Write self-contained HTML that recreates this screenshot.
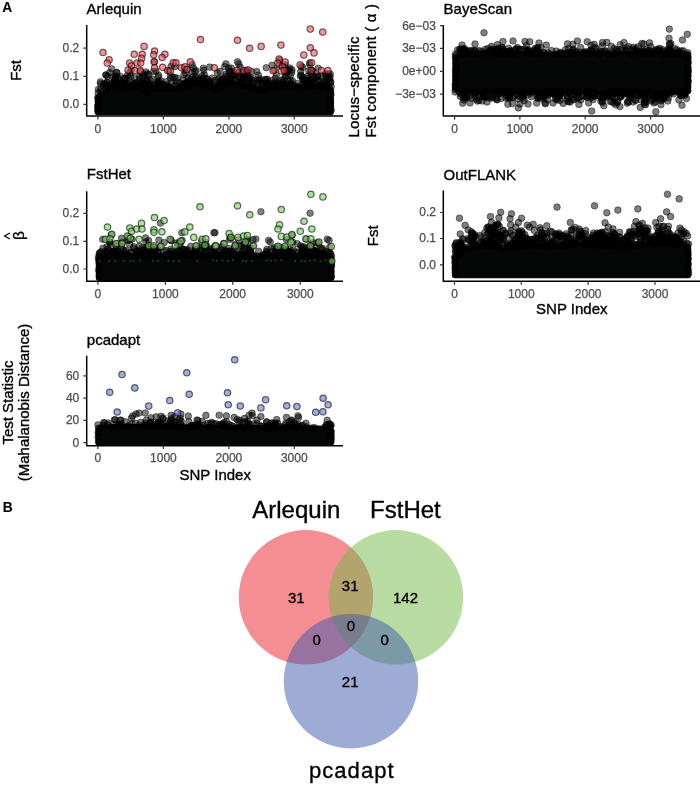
<!DOCTYPE html><html><head><meta charset="utf-8"><style>html,body{margin:0;padding:0;background:#fff}svg{display:block;filter:blur(0.3px)}text{font-family:"Liberation Sans", sans-serif;stroke:#000;stroke-width:0.35px} .t{font-size:12px;fill:#4D4D4D;stroke:#4D4D4D;stroke-width:0.25px} .h{font-size:15px;fill:#000}</style></head><body>
<svg width="700" height="786" viewBox="0 0 700 786">
<rect width="700" height="786" fill="#fff"/>
<text x="2.3" y="11.7" style="font-size:13.8px;font-weight:bold;stroke-width:0.1px">A</text>
<text x="2.8" y="511.8" style="font-size:13.8px;font-weight:bold;stroke-width:0.1px">B</text>
<text x="86.6" y="13.9" class="h">Arlequin</text>
<text transform="translate(21.4 70.4) rotate(-90)" text-anchor="middle" class="h">Fst</text>
<path d="M97.9 115.3Q94.9 115.3 94.9 112.3L94.9 97L98 93L100 93L102 92.5L104 90.8L106 86L108 84.3L110 83.1L112 83.9L114 84.6L116 85.3L118 85.7L120 85.9L122 86.1L124 86.2L126 86.3L128 85.3L130 84.4L132 84L134 84.2L136 84.4L138 84.6L140 84.4L142 84.1L144 85.3L146 89.7L148 88.7L150 87.7L152 86.9L154 86.2L156 85.5L158 84.9L160 86.9L162 88.8L164 89.5L166 88.2L168 86.9L170 86.5L172 86.5L174 86.5L176 86.5L178 86.5L180 86.5L182 86.5L184 86L186 85L188 84L190 83L192 82.5L194 82L196 81.5L198 81.3L200 81.5L202 81.7L204 82L206 82.5L208 83L210 83.5L212 84.4L214 86L216 87.1L218 86.1L220 85.1L222 84L224 82.8L226 81.6L228 80.4L230 80.2L232 80.5L234 80.7L236 81L238 81.5L240 81.9L242 82.4L244 82.8L246 83L248 83.1L250 83.3L252 83.5L254 84.4L256 85.7L258 86.9L260 88.1L262 87.6L264 86.9L266 86.3L268 85.8L270 85.4L272 84.9L274 84.7L276 84.9L278 85.2L280 85.4L282 84.7L284 83.5L286 82.3L288 81.1L290 80.1L292 82.1L294 84.1L296 85.3L298 84.8L300 84.3L302 83.8L304 83.6L306 83.6L308 83.6L310 83.6L312 83.8L314 84.1L316 84.4L318 84.6L320 84.3L322 84L324 83.7L326 84L328 85L330 86.1L330.7 86.4L333.8 90.4L333.8 112.3Q333.8 115.3 330.8 115.3Z" fill="#050706"/>
<g fill="#000" fill-opacity="0.5" stroke="#000" stroke-opacity="0.45" stroke-width="1"><circle cx="203.3" cy="68.2" r="3.3"/><circle cx="206.4" cy="79.1" r="3.3"/><circle cx="216.2" cy="85.9" r="3.3"/><circle cx="217.1" cy="87.1" r="3.3"/><circle cx="244.6" cy="85.1" r="3.3"/><circle cx="168.6" cy="86.3" r="3.3"/><circle cx="119.1" cy="84.5" r="3.3"/><circle cx="107.7" cy="76.3" r="3.3"/><circle cx="326.6" cy="76.2" r="3.3"/><circle cx="241.2" cy="82.8" r="3.3"/><circle cx="134.6" cy="77.7" r="3.3"/><circle cx="111.9" cy="86.1" r="3.3"/><circle cx="142.3" cy="87.2" r="3.3"/><circle cx="206" cy="83.7" r="3.3"/><circle cx="200.5" cy="79.5" r="3.3"/><circle cx="247" cy="78.2" r="3.3"/><circle cx="214.3" cy="84.8" r="3.3"/><circle cx="162.7" cy="85.2" r="3.3"/><circle cx="330.2" cy="74" r="3.3"/><circle cx="262.7" cy="90.1" r="3.3"/><circle cx="171.4" cy="88.9" r="3.3"/><circle cx="114.3" cy="81.4" r="3.3"/><circle cx="276.3" cy="75.6" r="3.3"/><circle cx="187.9" cy="78.1" r="3.3"/><circle cx="320.9" cy="87.2" r="3.3"/><circle cx="146.8" cy="92.3" r="3.3"/><circle cx="309.8" cy="64.8" r="3.3"/><circle cx="190.5" cy="81.9" r="3.3"/><circle cx="115" cy="78.6" r="3.3"/><circle cx="160.8" cy="80.7" r="3.3"/><circle cx="118.3" cy="78.7" r="3.3"/><circle cx="274.4" cy="70" r="3.3"/><circle cx="125.5" cy="89.5" r="3.3"/><circle cx="111.9" cy="83.4" r="3.3"/><circle cx="283.5" cy="82.5" r="3.3"/><circle cx="202.1" cy="75.8" r="3.3"/><circle cx="142.4" cy="86.8" r="3.3"/><circle cx="247.8" cy="82.1" r="3.3"/><circle cx="125.1" cy="84.7" r="3.3"/><circle cx="160.8" cy="88.2" r="3.3"/><circle cx="323.9" cy="84.7" r="3.3"/><circle cx="303.9" cy="80.4" r="3.3"/><circle cx="147" cy="80" r="3.3"/><circle cx="247.4" cy="76.6" r="3.3"/><circle cx="121.3" cy="83.7" r="3.3"/><circle cx="158.1" cy="87.8" r="3.3"/><circle cx="277.8" cy="85.2" r="3.3"/><circle cx="115.1" cy="82.3" r="3.3"/><circle cx="119" cy="83.8" r="3.3"/><circle cx="237.9" cy="81.7" r="3.3"/><circle cx="184.5" cy="69.6" r="3.3"/><circle cx="210.6" cy="81" r="3.3"/><circle cx="231.7" cy="80.2" r="3.3"/><circle cx="133.9" cy="83.6" r="3.3"/><circle cx="309.4" cy="84.3" r="3.3"/><circle cx="142.2" cy="81.8" r="3.3"/><circle cx="270.1" cy="83.6" r="3.3"/><circle cx="319.1" cy="85.7" r="3.3"/><circle cx="303.3" cy="80.1" r="3.3"/><circle cx="122.2" cy="84.2" r="3.3"/><circle cx="107" cy="82.6" r="3.3"/><circle cx="262" cy="89.4" r="3.3"/><circle cx="157.8" cy="83.2" r="3.3"/><circle cx="166.3" cy="81.6" r="3.3"/><circle cx="138.8" cy="87.2" r="3.3"/><circle cx="151.1" cy="87.5" r="3.3"/><circle cx="228.2" cy="76.8" r="3.3"/><circle cx="163.2" cy="84.4" r="3.3"/><circle cx="311.5" cy="86.5" r="3.3"/><circle cx="160.6" cy="89.3" r="3.3"/><circle cx="201.7" cy="80.3" r="3.3"/><circle cx="183.8" cy="87.4" r="3.3"/><circle cx="231.1" cy="78.4" r="3.3"/><circle cx="305.3" cy="81.2" r="3.3"/><circle cx="326.2" cy="80.6" r="3.3"/><circle cx="234" cy="73.7" r="3.3"/><circle cx="130.7" cy="85.8" r="3.3"/><circle cx="309.8" cy="86.5" r="3.3"/><circle cx="261.1" cy="89.5" r="3.3"/><circle cx="246" cy="85.8" r="3.3"/><circle cx="210.2" cy="85.9" r="3.3"/><circle cx="330.6" cy="82.6" r="3.3"/><circle cx="115.5" cy="75.8" r="3.3"/><circle cx="307.5" cy="83.1" r="3.3"/><circle cx="269.5" cy="84.6" r="3.3"/><circle cx="310.9" cy="73.3" r="3.3"/><circle cx="179.9" cy="82.9" r="3.3"/><circle cx="300.7" cy="71.6" r="3.3"/><circle cx="195.1" cy="80.9" r="3.3"/><circle cx="231.3" cy="68.1" r="3.3"/><circle cx="243.4" cy="78.1" r="3.3"/><circle cx="239.7" cy="77.9" r="3.3"/><circle cx="116.7" cy="72.5" r="3.3"/><circle cx="302.7" cy="67.4" r="3.3"/><circle cx="267.5" cy="79.2" r="3.3"/><circle cx="233.2" cy="75.4" r="3.3"/><circle cx="200.5" cy="83" r="3.3"/><circle cx="272.6" cy="85.1" r="3.3"/><circle cx="104.9" cy="84.4" r="3.3"/><circle cx="151.6" cy="84.8" r="3.3"/><circle cx="260.5" cy="80.2" r="3.3"/><circle cx="312.2" cy="86.9" r="3.3"/><circle cx="157.5" cy="81.4" r="3.3"/><circle cx="255.8" cy="88.2" r="3.3"/><circle cx="145.1" cy="83.9" r="3.3"/><circle cx="251.6" cy="71.5" r="3.3"/><circle cx="200.8" cy="79.3" r="3.3"/><circle cx="253" cy="82.5" r="3.3"/><circle cx="144.2" cy="76" r="3.3"/><circle cx="310.7" cy="80.8" r="3.3"/><circle cx="302.8" cy="78.9" r="3.3"/><circle cx="171.6" cy="82.7" r="3.3"/><circle cx="129.7" cy="72.5" r="3.3"/><circle cx="295.5" cy="88.3" r="3.3"/><circle cx="263.5" cy="84.2" r="3.3"/><circle cx="137.4" cy="85.7" r="3.3"/><circle cx="202.9" cy="84.2" r="3.3"/><circle cx="194.3" cy="79.6" r="3.3"/><circle cx="243.6" cy="79" r="3.3"/><circle cx="293.3" cy="86.3" r="3.3"/><circle cx="326.5" cy="84.5" r="3.3"/><circle cx="105.3" cy="89.9" r="3.3"/><circle cx="301.1" cy="75.1" r="3.3"/><circle cx="230.8" cy="80.3" r="3.3"/><circle cx="169.9" cy="89.3" r="3.3"/><circle cx="129.6" cy="86.2" r="3.3"/><circle cx="203.8" cy="70.3" r="3.3"/><circle cx="153.2" cy="87.4" r="3.3"/><circle cx="130.8" cy="76.4" r="3.3"/><circle cx="201.9" cy="81.7" r="3.3"/><circle cx="244.6" cy="77.9" r="3.3"/><circle cx="321" cy="75.3" r="3.3"/><circle cx="257.3" cy="86.8" r="3.3"/><circle cx="139.6" cy="79" r="3.3"/><circle cx="100.5" cy="83.7" r="3.3"/><circle cx="139.7" cy="85.4" r="3.3"/><circle cx="161.4" cy="84.4" r="3.3"/><circle cx="219.1" cy="78.6" r="3.3"/><circle cx="241" cy="85" r="3.3"/><circle cx="282.3" cy="79.7" r="3.3"/><circle cx="308.9" cy="70.9" r="3.3"/><circle cx="266.1" cy="79.8" r="3.3"/><circle cx="128.2" cy="77.7" r="3.3"/><circle cx="309.7" cy="83.6" r="3.3"/><circle cx="185.7" cy="73.4" r="3.3"/><circle cx="283.4" cy="80.1" r="3.3"/><circle cx="317.7" cy="76.5" r="3.3"/><circle cx="145.7" cy="90.4" r="3.3"/><circle cx="266" cy="84.8" r="3.3"/><circle cx="265" cy="79.4" r="3.3"/><circle cx="147.6" cy="73.9" r="3.3"/><circle cx="325.4" cy="73.8" r="3.3"/><circle cx="222.9" cy="84.9" r="3.3"/><circle cx="309.8" cy="80" r="3.3"/><circle cx="297.1" cy="86.3" r="3.3"/><circle cx="200.6" cy="82.1" r="3.3"/><circle cx="226.1" cy="83.7" r="3.3"/><circle cx="104.6" cy="83.3" r="3.3"/><circle cx="286.3" cy="72.1" r="3.3"/><circle cx="138.2" cy="82.2" r="3.3"/><circle cx="176" cy="88.7" r="3.3"/><circle cx="132.6" cy="83" r="3.3"/><circle cx="218.2" cy="86.7" r="3.3"/><circle cx="258.4" cy="75.2" r="3.3"/><circle cx="318.1" cy="68.2" r="3.3"/><circle cx="118" cy="88" r="3.3"/><circle cx="149.5" cy="84.6" r="3.3"/><circle cx="267.6" cy="88" r="3.3"/><circle cx="246.7" cy="71" r="3.3"/><circle cx="228.3" cy="81.2" r="3.3"/><circle cx="170.5" cy="78.4" r="3.3"/><circle cx="307.6" cy="76.3" r="3.3"/><circle cx="146.5" cy="80.2" r="3.3"/><circle cx="220" cy="71.4" r="3.3"/><circle cx="231.3" cy="80.6" r="3.3"/><circle cx="215.1" cy="80.6" r="3.3"/><circle cx="238.8" cy="64" r="3.3"/><circle cx="218.1" cy="85.6" r="3.3"/><circle cx="191.2" cy="82.6" r="3.3"/><circle cx="212.3" cy="78" r="3.3"/><circle cx="258.8" cy="81.5" r="3.3"/><circle cx="194.3" cy="81.1" r="3.3"/><circle cx="320.7" cy="81.8" r="3.3"/><circle cx="208.1" cy="83.3" r="3.3"/><circle cx="127.5" cy="75.3" r="3.3"/><circle cx="307.6" cy="80.8" r="3.3"/><circle cx="208.9" cy="84.3" r="3.3"/><circle cx="241.8" cy="80.8" r="3.3"/><circle cx="313.3" cy="77.7" r="3.3"/><circle cx="103.3" cy="85.2" r="3.3"/><circle cx="143.2" cy="85.4" r="3.3"/><circle cx="172.9" cy="77.6" r="3.3"/><circle cx="180.7" cy="87" r="3.3"/><circle cx="268.1" cy="86.4" r="3.3"/><circle cx="126.6" cy="83.1" r="3.3"/><circle cx="144" cy="88.1" r="3.3"/><circle cx="221.4" cy="80.4" r="3.3"/><circle cx="194.2" cy="82.1" r="3.3"/><circle cx="221.2" cy="84.8" r="3.3"/><circle cx="244.9" cy="81.5" r="3.3"/><circle cx="246.6" cy="70.9" r="3.3"/><circle cx="240.3" cy="82.3" r="3.3"/><circle cx="297.4" cy="86.8" r="3.3"/><circle cx="286.6" cy="72.1" r="3.3"/><circle cx="308.1" cy="84" r="3.3"/><circle cx="312.7" cy="80.8" r="3.3"/><circle cx="148.8" cy="74.8" r="3.3"/><circle cx="129.2" cy="87.8" r="3.3"/><circle cx="153.7" cy="88.6" r="3.3"/><circle cx="120.6" cy="83" r="3.3"/><circle cx="291.6" cy="72.5" r="3.3"/><circle cx="127.3" cy="82.2" r="3.3"/><circle cx="191.7" cy="85.2" r="3.3"/><circle cx="144.8" cy="89.6" r="3.3"/><circle cx="256.8" cy="71.5" r="3.3"/><circle cx="124.9" cy="78.4" r="3.3"/><circle cx="215.7" cy="90" r="3.3"/><circle cx="257.6" cy="80.4" r="3.3"/><circle cx="142" cy="83.9" r="3.3"/><circle cx="106.7" cy="87" r="3.3"/><circle cx="226.4" cy="74.2" r="3.3"/><circle cx="132.1" cy="86.2" r="3.3"/><circle cx="140.9" cy="83.1" r="3.3"/><circle cx="328.4" cy="73.8" r="3.3"/><circle cx="313.7" cy="84.9" r="3.3"/><circle cx="319.4" cy="86" r="3.3"/><circle cx="205.5" cy="84.9" r="3.3"/><circle cx="206.7" cy="78.7" r="3.3"/><circle cx="217.9" cy="79.6" r="3.3"/><circle cx="101.1" cy="91.5" r="3.3"/><circle cx="261.1" cy="88.2" r="3.3"/><circle cx="203.6" cy="80.9" r="3.3"/><circle cx="270" cy="84.2" r="3.3"/><circle cx="136.4" cy="84.7" r="3.3"/><circle cx="217.3" cy="72.8" r="3.3"/><circle cx="284.6" cy="84.7" r="3.3"/><circle cx="262" cy="83.6" r="3.3"/><circle cx="192.1" cy="77" r="3.3"/><circle cx="237.5" cy="61.8" r="3.3"/><circle cx="285.3" cy="85.3" r="3.3"/><circle cx="158.1" cy="77" r="3.3"/><circle cx="279" cy="81.5" r="3.3"/><circle cx="287.6" cy="70.4" r="3.3"/><circle cx="302.7" cy="77.3" r="3.3"/><circle cx="259.7" cy="89.7" r="3.3"/><circle cx="192.4" cy="72" r="3.3"/><circle cx="266.2" cy="82.9" r="3.3"/><circle cx="207.1" cy="82.8" r="3.3"/><circle cx="100.5" cy="89.2" r="3.3"/><circle cx="243.2" cy="76.9" r="3.3"/><circle cx="152" cy="79" r="3.3"/><circle cx="176.6" cy="85.7" r="3.3"/><circle cx="251.5" cy="77.7" r="3.3"/><circle cx="188.7" cy="82.7" r="3.3"/><circle cx="330.7" cy="81.8" r="3.3"/><circle cx="275.3" cy="78.4" r="3.3"/><circle cx="326.1" cy="76.3" r="3.3"/><circle cx="269.9" cy="87" r="3.3"/><circle cx="157.7" cy="86" r="3.3"/><circle cx="143.5" cy="85.6" r="3.3"/><circle cx="185.4" cy="83.5" r="3.3"/><circle cx="308.7" cy="83.3" r="3.3"/><circle cx="226" cy="63.9" r="3.3"/><circle cx="230.2" cy="82.4" r="3.3"/><circle cx="329.6" cy="79.6" r="3.3"/><circle cx="115.7" cy="77.3" r="3.3"/><circle cx="237" cy="84.3" r="3.3"/><circle cx="314.4" cy="84.9" r="3.3"/><circle cx="135.2" cy="82.7" r="3.3"/><circle cx="213.3" cy="87.8" r="3.3"/><circle cx="240.2" cy="67.2" r="3.3"/><circle cx="195.9" cy="77.8" r="3.3"/><circle cx="220.6" cy="81.8" r="3.3"/><circle cx="164.5" cy="88" r="3.3"/><circle cx="250.4" cy="80.5" r="3.3"/><circle cx="264.8" cy="87.5" r="3.3"/><circle cx="166.9" cy="84.8" r="3.3"/><circle cx="108" cy="87" r="3.3"/><circle cx="134.4" cy="87.2" r="3.3"/><circle cx="306.9" cy="78.8" r="3.3"/><circle cx="272.1" cy="65.2" r="3.3"/><circle cx="317.8" cy="80.4" r="3.3"/><circle cx="115.1" cy="81.2" r="3.3"/><circle cx="209.1" cy="81.8" r="3.3"/><circle cx="324.5" cy="86.5" r="3.3"/><circle cx="316.1" cy="77.9" r="3.3"/><circle cx="266.2" cy="67.7" r="3.3"/><circle cx="288" cy="79.9" r="3.3"/><circle cx="238.5" cy="76.4" r="3.3"/><circle cx="204" cy="77.8" r="3.3"/><circle cx="145.4" cy="83.9" r="3.3"/><circle cx="126.9" cy="85.9" r="3.3"/><circle cx="201.1" cy="80.5" r="3.3"/><circle cx="159" cy="81.4" r="3.3"/><circle cx="233.5" cy="71.7" r="3.3"/><circle cx="221.5" cy="80.8" r="3.3"/><circle cx="330.1" cy="76.9" r="3.3"/><circle cx="153.5" cy="85.8" r="3.3"/><circle cx="124.5" cy="78.5" r="3.3"/><circle cx="243.4" cy="77.2" r="3.3"/><circle cx="181.6" cy="88.1" r="3.3"/><circle cx="229.4" cy="71.3" r="3.3"/><circle cx="235.7" cy="75.2" r="3.3"/><circle cx="142.2" cy="77.4" r="3.3"/><circle cx="155.9" cy="71.1" r="3.3"/><circle cx="302.5" cy="84.6" r="3.3"/><circle cx="107.2" cy="82.3" r="3.3"/><circle cx="196.9" cy="82.1" r="3.3"/><circle cx="243.1" cy="77.8" r="3.3"/><circle cx="114.9" cy="82.1" r="3.3"/><circle cx="118.1" cy="84.4" r="3.3"/><circle cx="244.9" cy="77" r="3.3"/><circle cx="184.8" cy="83.3" r="3.3"/><circle cx="178" cy="89" r="3.3"/><circle cx="271.3" cy="86.6" r="3.3"/><circle cx="125.9" cy="86.8" r="3.3"/><circle cx="286.3" cy="75.6" r="3.3"/><circle cx="147.6" cy="82.5" r="3.3"/><circle cx="196.7" cy="83.8" r="3.3"/><circle cx="183.9" cy="74.7" r="3.3"/><circle cx="250.1" cy="79.5" r="3.3"/><circle cx="225.7" cy="84.5" r="3.3"/><circle cx="271.6" cy="80.7" r="3.3"/><circle cx="183.9" cy="85.2" r="3.3"/><circle cx="120.6" cy="86.8" r="3.3"/><circle cx="117.3" cy="86.6" r="3.3"/><circle cx="229.3" cy="71.2" r="3.3"/><circle cx="167.5" cy="89.2" r="3.3"/><circle cx="278.5" cy="83.5" r="3.3"/><circle cx="252.1" cy="84.2" r="3.3"/><circle cx="117" cy="84.6" r="3.3"/><circle cx="259.5" cy="78.9" r="3.3"/><circle cx="163.8" cy="88.1" r="3.3"/><circle cx="266.9" cy="83.4" r="3.3"/><circle cx="183.3" cy="80.2" r="3.3"/><circle cx="230.5" cy="75" r="3.3"/><circle cx="311.7" cy="70.5" r="3.3"/><circle cx="199.9" cy="78.2" r="3.3"/><circle cx="284.9" cy="83.8" r="3.3"/><circle cx="191" cy="79.4" r="3.3"/><circle cx="315.5" cy="82.7" r="3.3"/><circle cx="182.2" cy="86" r="3.3"/><circle cx="183.1" cy="84.4" r="3.3"/><circle cx="188.2" cy="81" r="3.3"/><circle cx="143.4" cy="74" r="3.3"/><circle cx="223.8" cy="80.6" r="3.3"/><circle cx="292.6" cy="81.3" r="3.3"/><circle cx="274.6" cy="86.1" r="3.3"/><circle cx="303" cy="86.5" r="3.3"/><circle cx="218" cy="87.7" r="3.3"/><circle cx="224.6" cy="66.6" r="3.3"/><circle cx="249.5" cy="77.9" r="3.3"/><circle cx="285.2" cy="76.7" r="3.3"/><circle cx="281.4" cy="84.3" r="3.3"/><circle cx="117.6" cy="77.5" r="3.3"/><circle cx="307.2" cy="80.4" r="3.3"/><circle cx="117.7" cy="85.9" r="3.3"/><circle cx="271.5" cy="84.8" r="3.3"/><circle cx="249" cy="86.3" r="3.3"/><circle cx="276.1" cy="82.5" r="3.3"/><circle cx="219.4" cy="87.9" r="3.3"/><circle cx="176.6" cy="81.7" r="3.3"/><circle cx="323.3" cy="82.7" r="3.3"/><circle cx="223" cy="78.4" r="3.3"/><circle cx="265.8" cy="85" r="3.3"/><circle cx="193.5" cy="68.1" r="3.3"/><circle cx="290.3" cy="75.7" r="3.3"/><circle cx="285.5" cy="72.2" r="3.3"/><circle cx="292" cy="69.9" r="3.3"/><circle cx="247" cy="73.3" r="3.3"/><circle cx="219.9" cy="84.8" r="3.3"/><circle cx="196.1" cy="70.7" r="3.3"/><circle cx="195.8" cy="76.7" r="3.3"/><circle cx="328.6" cy="78.1" r="3.3"/><circle cx="185.4" cy="85.8" r="3.3"/><circle cx="196.9" cy="79.8" r="3.3"/><circle cx="166" cy="88.7" r="3.3"/><circle cx="169.8" cy="89.2" r="3.3"/><circle cx="124.7" cy="81.2" r="3.3"/><circle cx="139.8" cy="76.5" r="3.3"/><circle cx="112.5" cy="77" r="3.3"/><circle cx="309.6" cy="84.1" r="3.3"/><circle cx="106.5" cy="84.8" r="3.3"/><circle cx="148.6" cy="88.4" r="3.3"/><circle cx="152.8" cy="87.7" r="3.3"/><circle cx="150.1" cy="80.4" r="3.3"/><circle cx="141" cy="86.5" r="3.3"/><circle cx="274.3" cy="83.1" r="3.3"/><circle cx="170.5" cy="75.6" r="3.3"/><circle cx="209.6" cy="82.2" r="3.3"/><circle cx="158.6" cy="75.2" r="3.3"/><circle cx="177.6" cy="78.2" r="3.3"/><circle cx="225.4" cy="76.3" r="3.3"/><circle cx="149.4" cy="88.8" r="3.3"/><circle cx="109.6" cy="72.6" r="3.3"/><circle cx="187.6" cy="82.7" r="3.3"/><circle cx="220.8" cy="81.6" r="3.3"/><circle cx="328.4" cy="87.8" r="3.3"/><circle cx="251" cy="86.5" r="3.3"/><circle cx="208" cy="85" r="3.3"/><circle cx="184.5" cy="85.3" r="3.3"/><circle cx="239" cy="72.8" r="3.3"/><circle cx="134.6" cy="83.6" r="3.3"/><circle cx="158.4" cy="82.6" r="3.3"/><circle cx="300.3" cy="76.1" r="3.3"/><circle cx="329.1" cy="87.6" r="3.3"/><circle cx="160" cy="85.6" r="3.3"/><circle cx="277.3" cy="87.3" r="3.3"/><circle cx="98.3" cy="89.5" r="3.3"/><circle cx="289.3" cy="69.6" r="3.3"/><circle cx="117.2" cy="87.2" r="3.3"/><circle cx="120.6" cy="76.5" r="3.3"/><circle cx="209.7" cy="67.1" r="3.3"/><circle cx="234.5" cy="80.1" r="3.3"/><circle cx="297.5" cy="83.5" r="3.3"/><circle cx="195" cy="71.6" r="3.3"/><circle cx="311.3" cy="74.3" r="3.3"/><circle cx="146.5" cy="84.6" r="3.3"/><circle cx="224.4" cy="81.1" r="3.3"/><circle cx="291.6" cy="84.2" r="3.3"/><circle cx="170.5" cy="88.5" r="3.3"/><circle cx="169.1" cy="86.7" r="3.3"/><circle cx="206.7" cy="84.2" r="3.3"/><circle cx="257.9" cy="82.7" r="3.3"/><circle cx="122.6" cy="82.3" r="3.3"/><circle cx="323" cy="81.6" r="3.3"/><circle cx="291.1" cy="83.7" r="3.3"/><circle cx="185.8" cy="87.3" r="3.3"/><circle cx="263.2" cy="89.6" r="3.3"/><circle cx="204.6" cy="75" r="3.3"/><circle cx="100.4" cy="81.9" r="3.3"/><circle cx="146.1" cy="92.1" r="3.3"/><circle cx="241.4" cy="83.5" r="3.3"/><circle cx="223.6" cy="78.7" r="3.3"/><circle cx="167.4" cy="86.3" r="3.3"/><circle cx="253.1" cy="80.3" r="3.3"/><circle cx="157.7" cy="84.1" r="3.3"/><circle cx="174.7" cy="77.4" r="3.3"/><circle cx="317.9" cy="75.9" r="3.3"/><circle cx="175.2" cy="84.8" r="3.3"/><circle cx="290.4" cy="80" r="3.3"/><circle cx="120" cy="86.7" r="3.3"/><circle cx="98.2" cy="93" r="3.3"/><circle cx="97.7" cy="97.7" r="3.3"/><circle cx="98.3" cy="101.4" r="3.3"/><circle cx="97.6" cy="105.7" r="3.3"/><circle cx="97.7" cy="108.8" r="3.3"/><circle cx="97.9" cy="111.6" r="3.3"/><circle cx="331.1" cy="86.4" r="3.3"/><circle cx="330.7" cy="90.2" r="3.3"/><circle cx="331" cy="94.6" r="3.3"/><circle cx="330.6" cy="99.7" r="3.3"/><circle cx="330.6" cy="103.1" r="3.3"/><circle cx="330.6" cy="105.6" r="3.3"/><circle cx="331.2" cy="110.2" r="3.3"/></g>
<g fill="#000" fill-opacity="0.5" stroke="#000" stroke-opacity="0.45" stroke-width="1"><circle cx="105.9" cy="75" r="3.3"/><circle cx="105.9" cy="75" r="3.3"/><circle cx="111.6" cy="68.9" r="3.3"/><circle cx="116.6" cy="72.5" r="3.3"/><circle cx="228.6" cy="68" r="3.3"/><circle cx="289.9" cy="68" r="3.3"/><circle cx="146" cy="72" r="3.3"/></g>
<g fill="#000" fill-opacity="0.5" stroke="#000" stroke-opacity="0.45" stroke-width="1"><circle cx="131.3" cy="69.7" r="3.3"/><circle cx="140.2" cy="71.5" r="3.3"/><circle cx="154.4" cy="61.9" r="3.3"/><circle cx="153.7" cy="71.4" r="3.3"/><circle cx="168.8" cy="71.1" r="3.3"/><circle cx="171.2" cy="66.2" r="3.3"/><circle cx="174.9" cy="66.6" r="3.3"/><circle cx="186.7" cy="69" r="3.3"/><circle cx="192.1" cy="64.6" r="3.3"/><circle cx="243.4" cy="71.2" r="3.3"/><circle cx="246.4" cy="71.1" r="3.3"/><circle cx="279.8" cy="60.4" r="3.3"/><circle cx="279.1" cy="65" r="3.3"/><circle cx="285.1" cy="64.9" r="3.3"/><circle cx="284.3" cy="66.9" r="3.3"/><circle cx="301.3" cy="66.4" r="3.3"/><circle cx="309.6" cy="62.9" r="3.3"/><circle cx="313" cy="71.3" r="3.3"/></g>
<g fill="rgb(245,65,75)" fill-opacity="0.56" stroke="#000" stroke-opacity="0.58" stroke-width="1.25"><circle cx="103" cy="52.5" r="3.2"/><circle cx="109.1" cy="59.7" r="3.2"/><circle cx="107.3" cy="63.1" r="3.2"/><circle cx="144.1" cy="46.4" r="3.2"/><circle cx="134.2" cy="54.3" r="3.2"/><circle cx="142.2" cy="54.3" r="3.2"/><circle cx="141.6" cy="58.4" r="3.2"/><circle cx="129.6" cy="63.1" r="3.2"/><circle cx="137" cy="63.1" r="3.2"/><circle cx="140.7" cy="63.1" r="3.2"/><circle cx="131.4" cy="65.9" r="3.2"/><circle cx="128.1" cy="70.1" r="3.2"/><circle cx="134.8" cy="70.5" r="3.2"/><circle cx="140.3" cy="70.5" r="3.2"/><circle cx="154.6" cy="51" r="3.2"/><circle cx="153.7" cy="54.7" r="3.2"/><circle cx="164.9" cy="54.3" r="3.2"/><circle cx="162.1" cy="57.5" r="3.2"/><circle cx="154.1" cy="61.8" r="3.2"/><circle cx="154.6" cy="67.7" r="3.2"/><circle cx="162.6" cy="67.3" r="3.2"/><circle cx="167.6" cy="70.5" r="3.2"/><circle cx="170.4" cy="71.1" r="3.2"/><circle cx="173.2" cy="62.7" r="3.2"/><circle cx="176" cy="62.7" r="3.2"/><circle cx="181.6" cy="67.7" r="3.2"/><circle cx="184.9" cy="66.8" r="3.2"/><circle cx="187.1" cy="69.6" r="3.2"/><circle cx="190.3" cy="61.8" r="3.2"/><circle cx="200.5" cy="39.5" r="3.2"/><circle cx="214.3" cy="67.7" r="3.2"/><circle cx="237.5" cy="40.2" r="3.2"/><circle cx="249.6" cy="48.2" r="3.2"/><circle cx="261.1" cy="46.4" r="3.2"/><circle cx="280.9" cy="45.1" r="3.2"/><circle cx="236.9" cy="70.5" r="3.2"/><circle cx="244" cy="70.5" r="3.2"/><circle cx="248.1" cy="69.9" r="3.2"/><circle cx="273.1" cy="70.7" r="3.2"/><circle cx="279.1" cy="59" r="3.2"/><circle cx="277.8" cy="63.1" r="3.2"/><circle cx="285.2" cy="62.1" r="3.2"/><circle cx="282.4" cy="66.8" r="3.2"/><circle cx="281.5" cy="71.1" r="3.2"/><circle cx="284.3" cy="70.5" r="3.2"/><circle cx="300.1" cy="64.9" r="3.2"/><circle cx="303.8" cy="55.1" r="3.2"/><circle cx="310.3" cy="47.7" r="3.2"/><circle cx="314" cy="52.9" r="3.2"/><circle cx="311.6" cy="62.7" r="3.2"/><circle cx="311.2" cy="70.5" r="3.2"/><circle cx="310.3" cy="29.1" r="3.2"/><circle cx="322.7" cy="32.1" r="3.2"/><circle cx="321.4" cy="70.5" r="3.2"/><circle cx="327.9" cy="70.5" r="3.2"/></g>
<path d="M86.70 25V115.95H343" fill="none" stroke="#000" stroke-width="1.5" stroke-linejoin="round"/>
<path d="M83.4 48.2H87M83.4 76.4H87M83.4 104.3H87M97.9 115.8V119.4M163.4 115.8V119.4M228.9 115.8V119.4M294.3 115.8V119.4" stroke="#333" stroke-width="1.2"/>
<text x="79.3" y="52.1" text-anchor="end" class="t">0.2</text>
<text x="79.3" y="80.3" text-anchor="end" class="t">0.1</text>
<text x="79.3" y="108.2" text-anchor="end" class="t">0.0</text>
<text x="97.9" y="132.7" text-anchor="middle" class="t">0</text>
<text x="163.4" y="132.7" text-anchor="middle" class="t">1000</text>
<text x="228.9" y="132.7" text-anchor="middle" class="t">2000</text>
<text x="294.3" y="132.7" text-anchor="middle" class="t">3000</text>
<text x="443.6" y="14" class="h">BayeScan</text>
<text transform="translate(359 137.6) rotate(-90)" class="h" textLength="101" lengthAdjust="spacing">Locus−specific</text>
<text transform="translate(376.4 137.5) rotate(-90)" class="h" textLength="133.5" lengthAdjust="spacing">Fst component ( α )</text>
<path d="M452.4 58.2L455.5 54.2L457.5 53.8L459.5 53.3L461.5 52.9L463.5 52.4L465.5 52L467.5 51.6L469.5 51.1L471.5 51L473.5 51.1L475.5 51.1L477.5 51.2L479.5 51.2L481.5 51.3L483.5 51.3L485.5 51.4L487.5 51.4L489.5 51.5L491.5 51.5L493.5 51.4L495.5 51.4L497.5 51.4L499.5 51.3L501.5 51.3L503.5 51.3L505.5 51.2L507.5 51.2L509.5 51.2L511.5 51.1L513.5 51.1L515.5 51.1L517.5 51L519.5 51L521.5 51L523.5 51.1L525.5 51.1L527.5 51.1L529.5 51.2L531.5 51.2L533.5 51.2L535.5 51.3L537.5 51.3L539.5 51.3L541.5 51.4L543.5 51.4L545.5 51.4L547.5 51.5L549.5 51.5L551.5 51.5L553.5 51.4L555.5 51.4L557.5 51.4L559.5 51.3L561.5 51.3L563.5 51.3L565.5 51.2L567.5 51.2L569.5 51.2L571.5 51.1L573.5 51.1L575.5 51.1L577.5 51L579.5 51L581.5 51L583.5 51.1L585.5 51.1L587.5 51.1L589.5 51.2L591.5 51.2L593.5 51.2L595.5 51.3L597.5 51.3L599.5 51.3L601.5 51.4L603.5 51.4L605.5 51.4L607.5 51.5L609.5 51.5L611.5 51.5L613.5 51.4L615.5 51.4L617.5 51.4L619.5 51.3L621.5 51.3L623.5 51.3L625.5 51.2L627.5 51.2L629.5 51.2L631.5 51.1L633.5 51.1L635.5 51.1L637.5 51L639.5 51L641.5 51L643.5 51L645.5 51L647.5 51L649.5 51L651.5 51L653.5 51L655.5 51L657.5 51L659.5 51L661.5 51L663.5 51L665.5 51L667.5 51L669.5 51L671.5 51.1L673.5 51.3L675.5 51.5L677.5 51.7L679.5 51.9L681.5 52.1L683.5 52.3L685.5 52.5L687.5 52.7L688.1 52.7L691.2 56.7L691.2 89.3L688.1 93.3L687.5 93.3L685.5 93.5L683.5 93.7L681.5 93.9L679.5 94.1L677.5 94.3L675.5 94.5L673.5 94.7L671.5 94.9L669.5 95L667.5 95L665.5 95L663.5 95L661.5 95L659.5 95L657.5 95L655.5 95L653.5 95L651.5 95L649.5 95L647.5 95L645.5 95L643.5 95L641.5 95L639.5 95L637.5 95L635.5 95L633.5 95L631.5 95L629.5 95L627.5 95L625.5 95L623.5 95L621.5 95L619.5 95L617.5 95L615.5 95L613.5 95L611.5 95L609.5 95L607.5 95L605.5 95L603.5 95L601.5 95L599.5 95L597.5 95L595.5 95L593.5 95L591.5 95L589.5 95L587.5 95L585.5 95L583.5 95L581.5 95L579.5 95L577.5 94.9L575.5 94.8L573.5 94.8L571.5 94.7L569.5 94.7L567.5 94.6L565.5 94.5L563.5 94.5L561.5 94.4L559.5 94.3L557.5 94.2L555.5 94.2L553.5 94.1L551.5 94L549.5 94L547.5 94L545.5 94.1L543.5 94.1L541.5 94.1L539.5 94.2L537.5 94.2L535.5 94.2L533.5 94.3L531.5 94.3L529.5 94.3L527.5 94.4L525.5 94.4L523.5 94.4L521.5 94.5L519.5 94.5L517.5 94.5L515.5 94.4L513.5 94.4L511.5 94.4L509.5 94.3L507.5 94.3L505.5 94.3L503.5 94.2L501.5 94.2L499.5 94.2L497.5 94.1L495.5 94.1L493.5 94.1L491.5 94L489.5 94L487.5 94L485.5 94L483.5 94L481.5 94L479.5 94L477.5 94L475.5 94L473.5 94L471.5 94L469.5 93.9L467.5 93.7L465.5 93.5L463.5 93.3L461.5 93.1L459.5 92.8L457.5 92.6L455.5 92.4L452.4 88.4Z" fill="#050706"/>
<g fill="#000" fill-opacity="0.5" stroke="#000" stroke-opacity="0.45" stroke-width="1"><circle cx="678.4" cy="54.3" r="3.3"/><circle cx="687.8" cy="55" r="3.3"/><circle cx="498.4" cy="49.3" r="3.3"/><circle cx="535.9" cy="49.5" r="3.3"/><circle cx="662.4" cy="52.8" r="3.3"/><circle cx="529.8" cy="41.8" r="3.3"/><circle cx="595.3" cy="47.5" r="3.3"/><circle cx="670.4" cy="51.1" r="3.3"/><circle cx="620.2" cy="44.7" r="3.3"/><circle cx="592.6" cy="51.3" r="3.3"/><circle cx="527.8" cy="50.8" r="3.3"/><circle cx="591.1" cy="45.3" r="3.3"/><circle cx="673.7" cy="52.6" r="3.3"/><circle cx="587.2" cy="41.7" r="3.3"/><circle cx="617.9" cy="51.6" r="3.3"/><circle cx="678" cy="52.5" r="3.3"/><circle cx="528.2" cy="51.9" r="3.3"/><circle cx="606.9" cy="42.4" r="3.3"/><circle cx="488.6" cy="51.3" r="3.3"/><circle cx="498.5" cy="48" r="3.3"/><circle cx="466.9" cy="53.6" r="3.3"/><circle cx="670.7" cy="54" r="3.3"/><circle cx="573.3" cy="49.2" r="3.3"/><circle cx="609.2" cy="54.1" r="3.3"/><circle cx="668.7" cy="52.5" r="3.3"/><circle cx="591" cy="49.9" r="3.3"/><circle cx="524.7" cy="49.1" r="3.3"/><circle cx="556.3" cy="51.1" r="3.3"/><circle cx="612.1" cy="52.6" r="3.3"/><circle cx="687.3" cy="55.5" r="3.3"/><circle cx="538.2" cy="49.9" r="3.3"/><circle cx="671.7" cy="52.3" r="3.3"/><circle cx="677" cy="49.8" r="3.3"/><circle cx="478" cy="54" r="3.3"/><circle cx="663.8" cy="51.2" r="3.3"/><circle cx="536.7" cy="48.9" r="3.3"/><circle cx="531.9" cy="52.4" r="3.3"/><circle cx="464.1" cy="53" r="3.3"/><circle cx="580" cy="52.1" r="3.3"/><circle cx="502.4" cy="47.6" r="3.3"/><circle cx="616.8" cy="49.7" r="3.3"/><circle cx="648.1" cy="52.5" r="3.3"/><circle cx="669.7" cy="44.8" r="3.3"/><circle cx="571.5" cy="52" r="3.3"/><circle cx="577.4" cy="41" r="3.3"/><circle cx="628.5" cy="46.6" r="3.3"/><circle cx="565.5" cy="53.4" r="3.3"/><circle cx="537.8" cy="47.4" r="3.3"/><circle cx="637.9" cy="51.3" r="3.3"/><circle cx="674.8" cy="48.5" r="3.3"/><circle cx="459.7" cy="49.4" r="3.3"/><circle cx="534.7" cy="54.4" r="3.3"/><circle cx="495.4" cy="52.7" r="3.3"/><circle cx="518.1" cy="49.2" r="3.3"/><circle cx="465.2" cy="50.7" r="3.3"/><circle cx="483" cy="53.6" r="3.3"/><circle cx="505.8" cy="54.1" r="3.3"/><circle cx="497.5" cy="44.6" r="3.3"/><circle cx="519.8" cy="49.6" r="3.3"/><circle cx="503.8" cy="51.2" r="3.3"/><circle cx="535.5" cy="53.4" r="3.3"/><circle cx="649.5" cy="42.9" r="3.3"/><circle cx="464.4" cy="48.5" r="3.3"/><circle cx="463.2" cy="49" r="3.3"/><circle cx="502.8" cy="49.6" r="3.3"/><circle cx="630" cy="54.1" r="3.3"/><circle cx="622.5" cy="50.8" r="3.3"/><circle cx="509.2" cy="53.5" r="3.3"/><circle cx="517.4" cy="47.5" r="3.3"/><circle cx="492.2" cy="51.7" r="3.3"/><circle cx="662.4" cy="53.2" r="3.3"/><circle cx="571.5" cy="53" r="3.3"/><circle cx="595.9" cy="48.9" r="3.3"/><circle cx="462.4" cy="54.4" r="3.3"/><circle cx="633.7" cy="47.2" r="3.3"/><circle cx="684.7" cy="55.4" r="3.3"/><circle cx="652.4" cy="53.6" r="3.3"/><circle cx="488" cy="48.5" r="3.3"/><circle cx="535.1" cy="48.4" r="3.3"/><circle cx="457.6" cy="50" r="3.3"/><circle cx="543.9" cy="52.6" r="3.3"/><circle cx="642.2" cy="51.8" r="3.3"/><circle cx="663.2" cy="49.7" r="3.3"/><circle cx="652.9" cy="52.7" r="3.3"/><circle cx="574.8" cy="52.8" r="3.3"/><circle cx="492.5" cy="50.9" r="3.3"/><circle cx="650.6" cy="46.5" r="3.3"/><circle cx="645.6" cy="53.7" r="3.3"/><circle cx="682" cy="53.5" r="3.3"/><circle cx="658.8" cy="49.5" r="3.3"/><circle cx="632.7" cy="48.8" r="3.3"/><circle cx="500.9" cy="49.8" r="3.3"/><circle cx="493.1" cy="50" r="3.3"/><circle cx="510.4" cy="52.8" r="3.3"/><circle cx="575.9" cy="51.4" r="3.3"/><circle cx="585.2" cy="53.7" r="3.3"/><circle cx="656.6" cy="49.2" r="3.3"/><circle cx="634.1" cy="50.8" r="3.3"/><circle cx="460.6" cy="49.1" r="3.3"/><circle cx="643.1" cy="51.8" r="3.3"/><circle cx="647.4" cy="52.7" r="3.3"/><circle cx="497" cy="53.5" r="3.3"/><circle cx="572.9" cy="44.2" r="3.3"/><circle cx="551.3" cy="50.5" r="3.3"/><circle cx="600.3" cy="54.3" r="3.3"/><circle cx="681.2" cy="50.8" r="3.3"/><circle cx="674.6" cy="53.1" r="3.3"/><circle cx="641.8" cy="43.5" r="3.3"/><circle cx="607.2" cy="52.9" r="3.3"/><circle cx="511" cy="50.7" r="3.3"/><circle cx="468.8" cy="50.7" r="3.3"/><circle cx="461.1" cy="54.3" r="3.3"/><circle cx="529" cy="50" r="3.3"/><circle cx="532.8" cy="51.1" r="3.3"/><circle cx="496.3" cy="49.5" r="3.3"/><circle cx="537.9" cy="53.7" r="3.3"/><circle cx="644.7" cy="52" r="3.3"/><circle cx="659.7" cy="48.4" r="3.3"/><circle cx="678.6" cy="54" r="3.3"/><circle cx="676.6" cy="53.8" r="3.3"/><circle cx="575.1" cy="53.8" r="3.3"/><circle cx="511.1" cy="51.8" r="3.3"/><circle cx="527.7" cy="53.3" r="3.3"/><circle cx="686.8" cy="54.6" r="3.3"/><circle cx="646.3" cy="49.9" r="3.3"/><circle cx="641.9" cy="50.5" r="3.3"/><circle cx="572.8" cy="50.2" r="3.3"/><circle cx="544" cy="52.7" r="3.3"/><circle cx="668.2" cy="49.4" r="3.3"/><circle cx="602.2" cy="51.8" r="3.3"/><circle cx="466.8" cy="51.4" r="3.3"/><circle cx="611.5" cy="46.3" r="3.3"/><circle cx="539.4" cy="54.4" r="3.3"/><circle cx="474.6" cy="53.6" r="3.3"/><circle cx="491.5" cy="46.4" r="3.3"/><circle cx="506" cy="51.9" r="3.3"/><circle cx="565.4" cy="49.8" r="3.3"/><circle cx="460.3" cy="51" r="3.3"/><circle cx="669.6" cy="50.5" r="3.3"/><circle cx="511.2" cy="52.2" r="3.3"/><circle cx="615.8" cy="50.5" r="3.3"/><circle cx="548.1" cy="52.8" r="3.3"/><circle cx="585.1" cy="52" r="3.3"/><circle cx="668.9" cy="49.7" r="3.3"/><circle cx="584.9" cy="52.6" r="3.3"/><circle cx="657.6" cy="50.7" r="3.3"/><circle cx="637.5" cy="53.3" r="3.3"/><circle cx="614.1" cy="48.6" r="3.3"/><circle cx="588.7" cy="51.4" r="3.3"/><circle cx="584.3" cy="52.1" r="3.3"/><circle cx="538" cy="53.1" r="3.3"/><circle cx="683.3" cy="50.9" r="3.3"/><circle cx="590.5" cy="53.7" r="3.3"/><circle cx="485.3" cy="49.4" r="3.3"/><circle cx="626.8" cy="47.9" r="3.3"/><circle cx="527.1" cy="52.4" r="3.3"/><circle cx="636.2" cy="49" r="3.3"/><circle cx="621.6" cy="49.1" r="3.3"/><circle cx="509.7" cy="51.1" r="3.3"/><circle cx="606.5" cy="51.1" r="3.3"/><circle cx="516.2" cy="48.9" r="3.3"/><circle cx="643.6" cy="53.9" r="3.3"/><circle cx="492.2" cy="49.1" r="3.3"/><circle cx="492.8" cy="52.5" r="3.3"/><circle cx="478.8" cy="50.5" r="3.3"/><circle cx="496.4" cy="50.5" r="3.3"/><circle cx="475.1" cy="50.5" r="3.3"/><circle cx="558.9" cy="54.5" r="3.3"/><circle cx="560.3" cy="52.4" r="3.3"/><circle cx="508.6" cy="48.2" r="3.3"/><circle cx="497.3" cy="53.6" r="3.3"/><circle cx="484.1" cy="53.3" r="3.3"/><circle cx="471.8" cy="51.4" r="3.3"/><circle cx="670.4" cy="48.7" r="3.3"/><circle cx="601.2" cy="51.8" r="3.3"/><circle cx="625.8" cy="49.9" r="3.3"/><circle cx="509.3" cy="52.7" r="3.3"/><circle cx="465.3" cy="50.4" r="3.3"/><circle cx="535.4" cy="51.8" r="3.3"/><circle cx="666.1" cy="53.2" r="3.3"/><circle cx="670.9" cy="43.5" r="3.3"/><circle cx="616" cy="53.8" r="3.3"/><circle cx="580.6" cy="47.5" r="3.3"/><circle cx="669.4" cy="43.8" r="3.3"/><circle cx="560.6" cy="53.1" r="3.3"/><circle cx="599.5" cy="53.2" r="3.3"/><circle cx="654.3" cy="51" r="3.3"/><circle cx="598.1" cy="51.8" r="3.3"/><circle cx="640" cy="52.2" r="3.3"/><circle cx="604.9" cy="51" r="3.3"/><circle cx="465.1" cy="53.5" r="3.3"/><circle cx="649.1" cy="50.2" r="3.3"/><circle cx="561.3" cy="54" r="3.3"/><circle cx="481.8" cy="53.6" r="3.3"/><circle cx="516" cy="53.8" r="3.3"/><circle cx="602.3" cy="45.7" r="3.3"/><circle cx="526.9" cy="50.1" r="3.3"/><circle cx="540.9" cy="47.6" r="3.3"/><circle cx="474.5" cy="50.8" r="3.3"/><circle cx="499.4" cy="53.9" r="3.3"/><circle cx="546.3" cy="45.1" r="3.3"/><circle cx="520.8" cy="49.4" r="3.3"/><circle cx="664.5" cy="54.1" r="3.3"/><circle cx="664.7" cy="53.5" r="3.3"/><circle cx="643.8" cy="43.9" r="3.3"/><circle cx="566.8" cy="52.8" r="3.3"/><circle cx="461.3" cy="53.6" r="3.3"/><circle cx="655.1" cy="50.7" r="3.3"/><circle cx="648.4" cy="50.8" r="3.3"/><circle cx="481.4" cy="51.4" r="3.3"/><circle cx="508.6" cy="51.3" r="3.3"/><circle cx="490.4" cy="50.6" r="3.3"/><circle cx="608.5" cy="54.2" r="3.3"/><circle cx="567.5" cy="43.9" r="3.3"/><circle cx="555.4" cy="54.2" r="3.3"/><circle cx="515.2" cy="49.7" r="3.3"/><circle cx="484" cy="53.5" r="3.3"/><circle cx="626.5" cy="50.9" r="3.3"/><circle cx="538.1" cy="53.4" r="3.3"/><circle cx="471.7" cy="50.4" r="3.3"/><circle cx="526.4" cy="45.7" r="3.3"/><circle cx="501.9" cy="47.6" r="3.3"/><circle cx="504.7" cy="52.3" r="3.3"/><circle cx="678.9" cy="51.9" r="3.3"/><circle cx="672.3" cy="54.2" r="3.3"/><circle cx="568.7" cy="52.8" r="3.3"/><circle cx="591.5" cy="50.4" r="3.3"/><circle cx="634.3" cy="50.9" r="3.3"/><circle cx="455.8" cy="55.9" r="3.3"/><circle cx="638.4" cy="46.8" r="3.3"/><circle cx="568.7" cy="48.5" r="3.3"/><circle cx="487.2" cy="53.3" r="3.3"/><circle cx="575" cy="92" r="3.3"/><circle cx="465.9" cy="95.6" r="3.3"/><circle cx="492.4" cy="97.9" r="3.3"/><circle cx="510.5" cy="93.7" r="3.3"/><circle cx="584.7" cy="96.2" r="3.3"/><circle cx="485.1" cy="90.9" r="3.3"/><circle cx="594.1" cy="95.9" r="3.3"/><circle cx="573.6" cy="99.8" r="3.3"/><circle cx="590.4" cy="96.9" r="3.3"/><circle cx="641.7" cy="92.6" r="3.3"/><circle cx="543.2" cy="95.9" r="3.3"/><circle cx="649.5" cy="95.6" r="3.3"/><circle cx="478.3" cy="96.2" r="3.3"/><circle cx="658.4" cy="96.4" r="3.3"/><circle cx="546.3" cy="91" r="3.3"/><circle cx="477.4" cy="101.1" r="3.3"/><circle cx="524.2" cy="100.7" r="3.3"/><circle cx="655.8" cy="98.6" r="3.3"/><circle cx="531.3" cy="91.7" r="3.3"/><circle cx="483.8" cy="96.5" r="3.3"/><circle cx="518.9" cy="93" r="3.3"/><circle cx="518.3" cy="107.9" r="3.3"/><circle cx="472.3" cy="91.8" r="3.3"/><circle cx="640.2" cy="107.4" r="3.3"/><circle cx="551.5" cy="91.2" r="3.3"/><circle cx="628.6" cy="101.9" r="3.3"/><circle cx="570.1" cy="101.9" r="3.3"/><circle cx="510.2" cy="91.2" r="3.3"/><circle cx="555.7" cy="95.9" r="3.3"/><circle cx="645.6" cy="94.9" r="3.3"/><circle cx="568.6" cy="101.7" r="3.3"/><circle cx="475.8" cy="92.4" r="3.3"/><circle cx="537.8" cy="98" r="3.3"/><circle cx="614.8" cy="92.5" r="3.3"/><circle cx="673.4" cy="93.9" r="3.3"/><circle cx="614.6" cy="98.9" r="3.3"/><circle cx="580.8" cy="99.9" r="3.3"/><circle cx="593.7" cy="92.5" r="3.3"/><circle cx="547.6" cy="99.8" r="3.3"/><circle cx="542.2" cy="95.9" r="3.3"/><circle cx="665.7" cy="93.9" r="3.3"/><circle cx="619.9" cy="106.6" r="3.3"/><circle cx="588.1" cy="92.6" r="3.3"/><circle cx="609.4" cy="92.6" r="3.3"/><circle cx="630.3" cy="93.5" r="3.3"/><circle cx="463.8" cy="100.1" r="3.3"/><circle cx="614.6" cy="92.9" r="3.3"/><circle cx="657.5" cy="97.6" r="3.3"/><circle cx="549.7" cy="92.7" r="3.3"/><circle cx="497.7" cy="91.3" r="3.3"/><circle cx="504.4" cy="92.6" r="3.3"/><circle cx="466.6" cy="97.5" r="3.3"/><circle cx="476.2" cy="99.2" r="3.3"/><circle cx="681.2" cy="95.8" r="3.3"/><circle cx="630" cy="95" r="3.3"/><circle cx="637.9" cy="92.1" r="3.3"/><circle cx="485.6" cy="97.2" r="3.3"/><circle cx="656.1" cy="95.1" r="3.3"/><circle cx="527.8" cy="94.7" r="3.3"/><circle cx="680.3" cy="94.9" r="3.3"/><circle cx="627.3" cy="103.2" r="3.3"/><circle cx="645.5" cy="104.8" r="3.3"/><circle cx="501.1" cy="98.5" r="3.3"/><circle cx="623.5" cy="92.6" r="3.3"/><circle cx="508.9" cy="95.5" r="3.3"/><circle cx="498.3" cy="93.2" r="3.3"/><circle cx="560.1" cy="93.7" r="3.3"/><circle cx="538" cy="98.2" r="3.3"/><circle cx="508" cy="94.9" r="3.3"/><circle cx="518.7" cy="96" r="3.3"/><circle cx="527.8" cy="91.9" r="3.3"/><circle cx="612.1" cy="96.8" r="3.3"/><circle cx="600.9" cy="101.3" r="3.3"/><circle cx="610.4" cy="101.5" r="3.3"/><circle cx="485.8" cy="96.8" r="3.3"/><circle cx="629.1" cy="96" r="3.3"/><circle cx="578.8" cy="97.5" r="3.3"/><circle cx="607.9" cy="95.6" r="3.3"/><circle cx="638.2" cy="95.7" r="3.3"/><circle cx="463.4" cy="91.4" r="3.3"/><circle cx="572.5" cy="91.6" r="3.3"/><circle cx="577.1" cy="94.6" r="3.3"/><circle cx="594.3" cy="95.9" r="3.3"/><circle cx="476.9" cy="92.4" r="3.3"/><circle cx="460.5" cy="94.1" r="3.3"/><circle cx="553" cy="102.9" r="3.3"/><circle cx="685.1" cy="93.9" r="3.3"/><circle cx="557.8" cy="98.2" r="3.3"/><circle cx="586.3" cy="94.7" r="3.3"/><circle cx="491.8" cy="95.4" r="3.3"/><circle cx="664.5" cy="95.8" r="3.3"/><circle cx="548.5" cy="95.1" r="3.3"/><circle cx="479" cy="100.4" r="3.3"/><circle cx="571.5" cy="95.8" r="3.3"/><circle cx="617.7" cy="92.2" r="3.3"/><circle cx="603.9" cy="97.2" r="3.3"/><circle cx="681.6" cy="91.5" r="3.3"/><circle cx="609.6" cy="95.5" r="3.3"/><circle cx="605.4" cy="93.3" r="3.3"/><circle cx="667.8" cy="101" r="3.3"/><circle cx="682.6" cy="92.3" r="3.3"/><circle cx="466.1" cy="97" r="3.3"/><circle cx="684.9" cy="95.3" r="3.3"/><circle cx="598.9" cy="95.7" r="3.3"/><circle cx="555.3" cy="94.3" r="3.3"/><circle cx="507.5" cy="97.3" r="3.3"/><circle cx="569.5" cy="92.5" r="3.3"/><circle cx="559.4" cy="96" r="3.3"/><circle cx="602.5" cy="102.4" r="3.3"/><circle cx="662.8" cy="93.9" r="3.3"/><circle cx="680.4" cy="94.3" r="3.3"/><circle cx="483" cy="96.7" r="3.3"/><circle cx="617.9" cy="101.1" r="3.3"/><circle cx="567.9" cy="98.5" r="3.3"/><circle cx="641.2" cy="99.9" r="3.3"/><circle cx="551.7" cy="92.4" r="3.3"/><circle cx="649.2" cy="93.9" r="3.3"/><circle cx="615.5" cy="93.4" r="3.3"/><circle cx="531.4" cy="96.7" r="3.3"/><circle cx="684.7" cy="92.8" r="3.3"/><circle cx="600.6" cy="97.5" r="3.3"/><circle cx="655" cy="101.8" r="3.3"/><circle cx="559.5" cy="92.9" r="3.3"/><circle cx="663.5" cy="98.8" r="3.3"/><circle cx="660.9" cy="104.7" r="3.3"/><circle cx="632.9" cy="93.6" r="3.3"/><circle cx="464.9" cy="97.4" r="3.3"/><circle cx="465.6" cy="98.3" r="3.3"/><circle cx="543.3" cy="95.3" r="3.3"/><circle cx="578.8" cy="97.4" r="3.3"/><circle cx="476.5" cy="91.7" r="3.3"/><circle cx="536.7" cy="103.1" r="3.3"/><circle cx="566.9" cy="95.5" r="3.3"/><circle cx="551.9" cy="93.5" r="3.3"/><circle cx="573.1" cy="99.4" r="3.3"/><circle cx="496.6" cy="99.4" r="3.3"/><circle cx="572.6" cy="91.7" r="3.3"/><circle cx="578.9" cy="104.5" r="3.3"/><circle cx="602.4" cy="97.2" r="3.3"/><circle cx="663.3" cy="98.9" r="3.3"/><circle cx="684.7" cy="93.5" r="3.3"/><circle cx="622.2" cy="92" r="3.3"/><circle cx="545.7" cy="91.4" r="3.3"/><circle cx="667.3" cy="94.5" r="3.3"/><circle cx="663.4" cy="98.7" r="3.3"/><circle cx="503.2" cy="92.3" r="3.3"/><circle cx="671.2" cy="91.9" r="3.3"/><circle cx="589" cy="95.4" r="3.3"/><circle cx="687.1" cy="90.7" r="3.3"/><circle cx="540" cy="96.7" r="3.3"/><circle cx="542" cy="97.2" r="3.3"/><circle cx="512.4" cy="96.9" r="3.3"/><circle cx="613.8" cy="103.1" r="3.3"/><circle cx="629.2" cy="94.1" r="3.3"/><circle cx="655.1" cy="97.8" r="3.3"/><circle cx="635.7" cy="100.6" r="3.3"/><circle cx="523.4" cy="94" r="3.3"/><circle cx="635.1" cy="91.8" r="3.3"/><circle cx="680.7" cy="94.9" r="3.3"/><circle cx="549" cy="92.7" r="3.3"/><circle cx="471.4" cy="98.3" r="3.3"/><circle cx="651.4" cy="101" r="3.3"/><circle cx="497.1" cy="99.8" r="3.3"/><circle cx="491.8" cy="96.4" r="3.3"/><circle cx="654" cy="103" r="3.3"/><circle cx="630.2" cy="97" r="3.3"/><circle cx="645.5" cy="92.6" r="3.3"/><circle cx="613.4" cy="92" r="3.3"/><circle cx="571.7" cy="93.4" r="3.3"/><circle cx="661.3" cy="94.4" r="3.3"/><circle cx="665.8" cy="92.9" r="3.3"/><circle cx="617.8" cy="92.2" r="3.3"/><circle cx="523.3" cy="95.8" r="3.3"/><circle cx="621.1" cy="96.7" r="3.3"/><circle cx="466.3" cy="91.1" r="3.3"/><circle cx="555.4" cy="94.9" r="3.3"/><circle cx="568.5" cy="93.4" r="3.3"/><circle cx="559.6" cy="95.1" r="3.3"/><circle cx="467.5" cy="92.3" r="3.3"/><circle cx="654.1" cy="94.4" r="3.3"/><circle cx="528" cy="104" r="3.3"/><circle cx="493.9" cy="92.2" r="3.3"/><circle cx="654.6" cy="98.3" r="3.3"/><circle cx="567.9" cy="91.9" r="3.3"/><circle cx="612.3" cy="96.5" r="3.3"/><circle cx="625.9" cy="92.1" r="3.3"/><circle cx="506.6" cy="92" r="3.3"/><circle cx="530.8" cy="92" r="3.3"/><circle cx="643" cy="94.3" r="3.3"/><circle cx="547.5" cy="93.8" r="3.3"/><circle cx="524.7" cy="93.2" r="3.3"/><circle cx="502.3" cy="91.1" r="3.3"/><circle cx="639.9" cy="93.6" r="3.3"/><circle cx="617.2" cy="102.5" r="3.3"/><circle cx="687.7" cy="90.6" r="3.3"/><circle cx="560" cy="100.5" r="3.3"/><circle cx="678.9" cy="100" r="3.3"/><circle cx="635.9" cy="95.2" r="3.3"/><circle cx="679.7" cy="91.4" r="3.3"/><circle cx="606.5" cy="97.1" r="3.3"/><circle cx="640.8" cy="96" r="3.3"/><circle cx="625.4" cy="93.5" r="3.3"/><circle cx="623.3" cy="93.4" r="3.3"/><circle cx="586.3" cy="94.3" r="3.3"/><circle cx="594.7" cy="95.7" r="3.3"/><circle cx="489.9" cy="98.1" r="3.3"/><circle cx="588.7" cy="102.9" r="3.3"/><circle cx="623" cy="94.2" r="3.3"/><circle cx="474" cy="93.7" r="3.3"/><circle cx="577.9" cy="92.8" r="3.3"/><circle cx="613.3" cy="92" r="3.3"/><circle cx="579.2" cy="92.6" r="3.3"/><circle cx="496.1" cy="97.9" r="3.3"/><circle cx="569.1" cy="91.7" r="3.3"/><circle cx="633.1" cy="93.8" r="3.3"/><circle cx="512.8" cy="97.7" r="3.3"/><circle cx="501.5" cy="93.4" r="3.3"/><circle cx="641.5" cy="94.4" r="3.3"/><circle cx="542.6" cy="98.9" r="3.3"/><circle cx="460.4" cy="96.6" r="3.3"/><circle cx="524.2" cy="91.8" r="3.3"/><circle cx="618.6" cy="92.7" r="3.3"/><circle cx="586.3" cy="96.9" r="3.3"/><circle cx="648.4" cy="92.6" r="3.3"/><circle cx="683.6" cy="92.9" r="3.3"/><circle cx="534.9" cy="91.1" r="3.3"/><circle cx="644.8" cy="100.3" r="3.3"/><circle cx="576.6" cy="91.7" r="3.3"/><circle cx="627.7" cy="101.4" r="3.3"/><circle cx="482.1" cy="101" r="3.3"/><circle cx="552.4" cy="93.5" r="3.3"/><circle cx="506" cy="98.3" r="3.3"/><circle cx="545.5" cy="103.8" r="3.3"/><circle cx="462.1" cy="94.2" r="3.3"/><circle cx="521.5" cy="97" r="3.3"/><circle cx="634.9" cy="99.4" r="3.3"/><circle cx="459.3" cy="92.2" r="3.3"/><circle cx="563.2" cy="103.4" r="3.3"/><circle cx="594" cy="95.4" r="3.3"/><circle cx="507.9" cy="104.3" r="3.3"/><circle cx="620.2" cy="96.8" r="3.3"/><circle cx="667.3" cy="94.5" r="3.3"/><circle cx="601.6" cy="98.2" r="3.3"/><circle cx="561.6" cy="92.6" r="3.3"/><circle cx="462.7" cy="103.2" r="3.3"/><circle cx="483" cy="96.1" r="3.3"/><circle cx="463.6" cy="98" r="3.3"/><circle cx="555.5" cy="98.9" r="3.3"/><circle cx="475" cy="96.2" r="3.3"/><circle cx="509.5" cy="98.1" r="3.3"/><circle cx="644.8" cy="102" r="3.3"/><circle cx="510.2" cy="93.9" r="3.3"/><circle cx="539.8" cy="95.6" r="3.3"/><circle cx="652.6" cy="99.4" r="3.3"/><circle cx="674.9" cy="91.5" r="3.3"/><circle cx="563.8" cy="92.1" r="3.3"/><circle cx="610.5" cy="92.8" r="3.3"/><circle cx="469.5" cy="95.9" r="3.3"/><circle cx="590.5" cy="94.3" r="3.3"/><circle cx="509" cy="97.9" r="3.3"/><circle cx="659.9" cy="99.3" r="3.3"/><circle cx="659.9" cy="93.2" r="3.3"/><circle cx="605" cy="96.4" r="3.3"/><circle cx="647.6" cy="97.8" r="3.3"/><circle cx="602.3" cy="101" r="3.3"/><circle cx="544.5" cy="97" r="3.3"/><circle cx="484.3" cy="93.3" r="3.3"/><circle cx="645.7" cy="98.2" r="3.3"/><circle cx="559" cy="91.7" r="3.3"/><circle cx="631.3" cy="95.1" r="3.3"/><circle cx="656.8" cy="95.6" r="3.3"/><circle cx="611.7" cy="101.4" r="3.3"/><circle cx="495.2" cy="93.2" r="3.3"/><circle cx="523.4" cy="95.5" r="3.3"/><circle cx="591.5" cy="97.5" r="3.3"/><circle cx="662.8" cy="98.5" r="3.3"/><circle cx="686.5" cy="98.5" r="3.3"/><circle cx="590.3" cy="92" r="3.3"/><circle cx="556" cy="92.2" r="3.3"/><circle cx="512.5" cy="103.5" r="3.3"/><circle cx="603.4" cy="95.3" r="3.3"/><circle cx="537.9" cy="96.4" r="3.3"/><circle cx="646.2" cy="102.1" r="3.3"/><circle cx="577" cy="98.2" r="3.3"/><circle cx="620.7" cy="96.2" r="3.3"/><circle cx="487.2" cy="96.9" r="3.3"/><circle cx="518.1" cy="99" r="3.3"/><circle cx="482.3" cy="93" r="3.3"/><circle cx="538.3" cy="93.1" r="3.3"/><circle cx="544" cy="93.2" r="3.3"/><circle cx="523.4" cy="98.2" r="3.3"/><circle cx="671.5" cy="92.5" r="3.3"/><circle cx="563.1" cy="96" r="3.3"/><circle cx="517.5" cy="94.7" r="3.3"/><circle cx="531.6" cy="93.3" r="3.3"/><circle cx="668.4" cy="97.8" r="3.3"/><circle cx="540.6" cy="96.1" r="3.3"/><circle cx="603.5" cy="96.6" r="3.3"/><circle cx="567.6" cy="101.1" r="3.3"/><circle cx="593" cy="99.6" r="3.3"/><circle cx="499.8" cy="93.1" r="3.3"/><circle cx="587.2" cy="97.4" r="3.3"/><circle cx="455.4" cy="54.2" r="3.3"/><circle cx="455.3" cy="57.5" r="3.3"/><circle cx="455.7" cy="63.1" r="3.3"/><circle cx="455.9" cy="68.2" r="3.3"/><circle cx="455.5" cy="71.1" r="3.3"/><circle cx="455.5" cy="75.8" r="3.3"/><circle cx="455.6" cy="79.9" r="3.3"/><circle cx="455.2" cy="84.3" r="3.3"/><circle cx="455.3" cy="86.9" r="3.3"/><circle cx="455.3" cy="89.4" r="3.3"/><circle cx="455.1" cy="91.9" r="3.3"/><circle cx="687.8" cy="52.7" r="3.3"/><circle cx="688" cy="57.4" r="3.3"/><circle cx="688.2" cy="62.5" r="3.3"/><circle cx="688" cy="67.7" r="3.3"/><circle cx="688.5" cy="71.4" r="3.3"/><circle cx="688" cy="76" r="3.3"/><circle cx="688.3" cy="81.2" r="3.3"/><circle cx="687.6" cy="85.7" r="3.3"/><circle cx="687.7" cy="90.9" r="3.3"/></g>
<g fill="#000" fill-opacity="0.5" stroke="#000" stroke-opacity="0.45" stroke-width="1"><circle cx="484" cy="32.8" r="3.3"/><circle cx="669.3" cy="29.1" r="3.3"/><circle cx="669" cy="38.2" r="3.3"/><circle cx="687.3" cy="34.3" r="3.3"/><circle cx="682.4" cy="40" r="3.3"/><circle cx="602.5" cy="42.6" r="3.3"/><circle cx="624" cy="42.6" r="3.3"/><circle cx="594.1" cy="44.3" r="3.3"/><circle cx="591.7" cy="111" r="3.3"/><circle cx="603.8" cy="105.8" r="3.3"/><circle cx="616" cy="104.8" r="3.3"/><circle cx="644.3" cy="104.3" r="3.3"/><circle cx="655.9" cy="111.7" r="3.3"/><circle cx="682" cy="105.2" r="3.3"/><circle cx="633" cy="102" r="3.3"/><circle cx="661" cy="100.7" r="3.3"/><circle cx="503" cy="41.5" r="3.3"/><circle cx="513" cy="41" r="3.3"/><circle cx="525" cy="41.5" r="3.3"/><circle cx="539" cy="43" r="3.3"/><circle cx="475" cy="44" r="3.3"/><circle cx="462" cy="45" r="3.3"/><circle cx="545" cy="103" r="3.3"/><circle cx="520" cy="104" r="3.3"/><circle cx="487" cy="102" r="3.3"/><circle cx="470" cy="103" r="3.3"/><circle cx="557" cy="100" r="3.3"/></g>
<path d="M443.30 25V115.95H700" fill="none" stroke="#000" stroke-width="1.5" stroke-linejoin="round"/>
<path d="M440 25.7H443.6M440 48.3H443.6M440 71.3H443.6M440 94.1H443.6M454.6 115.8V119.4M519.9 115.8V119.4M585.2 115.8V119.4M650.6 115.8V119.4" stroke="#333" stroke-width="1.2"/>
<text x="435.9" y="29.6" text-anchor="end" class="t">6e−03</text>
<text x="435.9" y="52.2" text-anchor="end" class="t">3e−03</text>
<text x="435.9" y="75.2" text-anchor="end" class="t">0e+00</text>
<text x="435.9" y="98" text-anchor="end" class="t">−3e−03</text>
<text x="454.6" y="132.7" text-anchor="middle" class="t">0</text>
<text x="519.9" y="132.7" text-anchor="middle" class="t">1000</text>
<text x="585.2" y="132.7" text-anchor="middle" class="t">2000</text>
<text x="650.6" y="132.7" text-anchor="middle" class="t">3000</text>
<text x="86.8" y="178.8" class="h">FstHet</text>
<path d="M98.8 281Q95.8 281 95.8 278L95.8 257.9L98.9 253.9L100.9 253.8L102.9 253.7L104.9 253.6L106.9 253.5L108.9 253.5L110.9 253.4L112.9 253.3L114.9 253.2L116.9 253.1L118.9 253L120.9 253L122.9 253L124.9 253L126.9 253L128.9 253L130.9 253L132.9 253L134.9 253L136.9 253L138.9 253L140.9 253L142.9 253L144.9 253L146.9 253L148.9 253L150.9 253L152.9 253L154.9 253L156.9 253L158.9 253L160.9 253L162.9 253L164.9 253L166.9 253L168.9 253L170.9 253L172.9 253L174.9 253L176.9 253L178.9 253L180.9 253L182.9 253L184.9 253L186.9 253L188.9 253L190.9 253L192.9 253L194.9 253L196.9 253L198.9 253L200.9 253L202.9 253L204.9 253L206.9 253L208.9 253L210.9 253L212.9 253L214.9 253L216.9 253L218.9 253L220.9 253L222.9 253L224.9 253L226.9 253L228.9 253L230.9 253L232.9 253L234.9 253L236.9 253L238.9 253L240.9 253L242.9 253L244.9 253L246.9 253L248.9 253L250.9 253L252.9 253L254.9 253L256.9 253L258.9 253L260.9 253L262.9 253L264.9 253L266.9 253L268.9 253L270.9 253L272.9 253L274.9 253L276.9 253L278.9 253L280.9 253L282.9 253L284.9 253L286.9 253L288.9 253L290.9 253L292.9 253L294.9 253L296.9 253L298.9 253L300.9 253L302.9 253.1L304.9 253.1L306.9 253.2L308.9 253.3L310.9 253.3L312.9 253.4L314.9 253.4L316.9 253.5L318.9 253.5L320.9 253.6L322.9 253.7L324.9 253.7L326.9 253.8L328.9 253.8L330.9 253.9L331.3 253.9L334.4 257.9L334.4 278Q334.4 281 331.4 281Z" fill="#050706"/>
<g fill="#000" fill-opacity="0.5" stroke="#000" stroke-opacity="0.45" stroke-width="1"><circle cx="231.4" cy="251" r="3.3"/><circle cx="163.3" cy="250.5" r="3.3"/><circle cx="250.4" cy="249.1" r="3.3"/><circle cx="142.2" cy="250.4" r="3.3"/><circle cx="250.4" cy="252.5" r="3.3"/><circle cx="323.4" cy="253.5" r="3.3"/><circle cx="221.7" cy="246.7" r="3.3"/><circle cx="246.6" cy="252.8" r="3.3"/><circle cx="168.9" cy="254.4" r="3.3"/><circle cx="111.1" cy="252" r="3.3"/><circle cx="240.1" cy="255.8" r="3.3"/><circle cx="295.6" cy="251.8" r="3.3"/><circle cx="314.6" cy="250.7" r="3.3"/><circle cx="126.2" cy="254" r="3.3"/><circle cx="111.9" cy="253.1" r="3.3"/><circle cx="148.5" cy="255.8" r="3.3"/><circle cx="307.3" cy="256.4" r="3.3"/><circle cx="173.7" cy="254" r="3.3"/><circle cx="155.3" cy="256.1" r="3.3"/><circle cx="220.8" cy="255.7" r="3.3"/><circle cx="169.6" cy="254.1" r="3.3"/><circle cx="124.5" cy="254.5" r="3.3"/><circle cx="106.5" cy="251.9" r="3.3"/><circle cx="229" cy="251.2" r="3.3"/><circle cx="127.7" cy="254.9" r="3.3"/><circle cx="172.5" cy="254.5" r="3.3"/><circle cx="112.3" cy="256.1" r="3.3"/><circle cx="143.7" cy="253.4" r="3.3"/><circle cx="250.8" cy="251.6" r="3.3"/><circle cx="182.1" cy="255" r="3.3"/><circle cx="224.2" cy="255.4" r="3.3"/><circle cx="115.2" cy="252.9" r="3.3"/><circle cx="210.7" cy="250.9" r="3.3"/><circle cx="124.7" cy="251.2" r="3.3"/><circle cx="301.7" cy="251" r="3.3"/><circle cx="202" cy="255.7" r="3.3"/><circle cx="172.2" cy="251.2" r="3.3"/><circle cx="136.8" cy="252" r="3.3"/><circle cx="213.9" cy="255.4" r="3.3"/><circle cx="119.2" cy="255.5" r="3.3"/><circle cx="238.7" cy="255.6" r="3.3"/><circle cx="197" cy="251.6" r="3.3"/><circle cx="216.7" cy="255.6" r="3.3"/><circle cx="322.4" cy="248.3" r="3.3"/><circle cx="210.9" cy="252" r="3.3"/><circle cx="285.5" cy="255.7" r="3.3"/><circle cx="174.4" cy="254.1" r="3.3"/><circle cx="264.3" cy="254.5" r="3.3"/><circle cx="243.5" cy="254.9" r="3.3"/><circle cx="275.7" cy="250.5" r="3.3"/><circle cx="323.4" cy="254.7" r="3.3"/><circle cx="287" cy="252.3" r="3.3"/><circle cx="314" cy="251.8" r="3.3"/><circle cx="235.2" cy="251.1" r="3.3"/><circle cx="217.8" cy="252.7" r="3.3"/><circle cx="266.5" cy="251.4" r="3.3"/><circle cx="151.9" cy="253.4" r="3.3"/><circle cx="234.5" cy="254.4" r="3.3"/><circle cx="232.1" cy="255.3" r="3.3"/><circle cx="319.7" cy="254.2" r="3.3"/><circle cx="115.5" cy="249.9" r="3.3"/><circle cx="232.2" cy="253" r="3.3"/><circle cx="330.3" cy="256.9" r="3.3"/><circle cx="317.1" cy="256.3" r="3.3"/><circle cx="195" cy="249.5" r="3.3"/><circle cx="131" cy="252.3" r="3.3"/><circle cx="108.1" cy="249.4" r="3.3"/><circle cx="282.8" cy="255.2" r="3.3"/><circle cx="151.9" cy="253.2" r="3.3"/><circle cx="284.7" cy="253.6" r="3.3"/><circle cx="271.1" cy="248.8" r="3.3"/><circle cx="274.3" cy="248" r="3.3"/><circle cx="293.1" cy="255.7" r="3.3"/><circle cx="299.3" cy="256.2" r="3.3"/><circle cx="242.7" cy="255.2" r="3.3"/><circle cx="176.2" cy="254.3" r="3.3"/><circle cx="177.7" cy="251.6" r="3.3"/><circle cx="145.9" cy="256.1" r="3.3"/><circle cx="118" cy="255.6" r="3.3"/><circle cx="122.2" cy="254.1" r="3.3"/><circle cx="195.2" cy="251" r="3.3"/><circle cx="225.5" cy="250.7" r="3.3"/><circle cx="205.8" cy="254.2" r="3.3"/><circle cx="104.3" cy="254.5" r="3.3"/><circle cx="117.2" cy="254.2" r="3.3"/><circle cx="157.6" cy="252.8" r="3.3"/><circle cx="170.1" cy="255.9" r="3.3"/><circle cx="203.3" cy="255.7" r="3.3"/><circle cx="187.9" cy="254.9" r="3.3"/><circle cx="151.1" cy="249.6" r="3.3"/><circle cx="108.7" cy="250.4" r="3.3"/><circle cx="179.3" cy="246.4" r="3.3"/><circle cx="126.1" cy="250.3" r="3.3"/><circle cx="321.2" cy="255.7" r="3.3"/><circle cx="175.9" cy="255.8" r="3.3"/><circle cx="154.1" cy="255.1" r="3.3"/><circle cx="283.6" cy="248.8" r="3.3"/><circle cx="188.6" cy="255.5" r="3.3"/><circle cx="302.6" cy="251.1" r="3.3"/><circle cx="142.7" cy="253.5" r="3.3"/><circle cx="145.2" cy="252.9" r="3.3"/><circle cx="287.7" cy="253.2" r="3.3"/><circle cx="164.9" cy="255.1" r="3.3"/><circle cx="244.6" cy="247.1" r="3.3"/><circle cx="153.4" cy="251.1" r="3.3"/><circle cx="285.1" cy="247.2" r="3.3"/><circle cx="202.1" cy="254.7" r="3.3"/><circle cx="277.5" cy="255.1" r="3.3"/><circle cx="135.7" cy="256" r="3.3"/><circle cx="137" cy="255.1" r="3.3"/><circle cx="188.1" cy="253.6" r="3.3"/><circle cx="197.5" cy="255.8" r="3.3"/><circle cx="275.1" cy="254.3" r="3.3"/><circle cx="220.3" cy="254.9" r="3.3"/><circle cx="309" cy="251.7" r="3.3"/><circle cx="120.2" cy="253.5" r="3.3"/><circle cx="302" cy="247.3" r="3.3"/><circle cx="222.3" cy="255.8" r="3.3"/><circle cx="187.8" cy="249.9" r="3.3"/><circle cx="330" cy="253.2" r="3.3"/><circle cx="213.6" cy="252.6" r="3.3"/><circle cx="224.4" cy="256" r="3.3"/><circle cx="225.2" cy="255.2" r="3.3"/><circle cx="311.7" cy="252" r="3.3"/><circle cx="153.7" cy="256.1" r="3.3"/><circle cx="298.4" cy="252.6" r="3.3"/><circle cx="169.4" cy="251.7" r="3.3"/><circle cx="302.4" cy="247.7" r="3.3"/><circle cx="285.8" cy="254.6" r="3.3"/><circle cx="290.2" cy="251.9" r="3.3"/><circle cx="156" cy="249.4" r="3.3"/><circle cx="315.9" cy="251.6" r="3.3"/><circle cx="180.4" cy="255.4" r="3.3"/><circle cx="172.5" cy="255.5" r="3.3"/><circle cx="226.1" cy="254.7" r="3.3"/><circle cx="250" cy="248.5" r="3.3"/><circle cx="243.3" cy="254.5" r="3.3"/><circle cx="250" cy="252.9" r="3.3"/><circle cx="180.4" cy="255.7" r="3.3"/><circle cx="282.2" cy="254.2" r="3.3"/><circle cx="308.1" cy="249.9" r="3.3"/><circle cx="113.4" cy="255.2" r="3.3"/><circle cx="196" cy="252.5" r="3.3"/><circle cx="199.5" cy="247.9" r="3.3"/><circle cx="217.6" cy="254.2" r="3.3"/><circle cx="155.4" cy="253.7" r="3.3"/><circle cx="113.4" cy="251.2" r="3.3"/><circle cx="270.5" cy="255.7" r="3.3"/><circle cx="254.7" cy="255.5" r="3.3"/><circle cx="117.2" cy="243.8" r="3.3"/><circle cx="199.2" cy="254.9" r="3.3"/><circle cx="322.2" cy="254.6" r="3.3"/><circle cx="265.1" cy="254.4" r="3.3"/><circle cx="287.1" cy="254.3" r="3.3"/><circle cx="185.5" cy="255.1" r="3.3"/><circle cx="174.5" cy="252.9" r="3.3"/><circle cx="235.7" cy="254.1" r="3.3"/><circle cx="113.6" cy="251.3" r="3.3"/><circle cx="223.3" cy="253" r="3.3"/><circle cx="300.5" cy="254.4" r="3.3"/><circle cx="314.6" cy="254.2" r="3.3"/><circle cx="137.5" cy="252.6" r="3.3"/><circle cx="244.3" cy="255.6" r="3.3"/><circle cx="222.6" cy="253.8" r="3.3"/><circle cx="145.4" cy="251.7" r="3.3"/><circle cx="101.6" cy="251.5" r="3.3"/><circle cx="245.9" cy="254.8" r="3.3"/><circle cx="267" cy="252.6" r="3.3"/><circle cx="323.2" cy="254.1" r="3.3"/><circle cx="179.5" cy="249.7" r="3.3"/><circle cx="317.5" cy="253.8" r="3.3"/><circle cx="118.2" cy="250.8" r="3.3"/><circle cx="229" cy="255.8" r="3.3"/><circle cx="276.8" cy="246.9" r="3.3"/><circle cx="226.6" cy="251.4" r="3.3"/><circle cx="249.6" cy="252.7" r="3.3"/><circle cx="240.9" cy="254.6" r="3.3"/><circle cx="316.7" cy="249.9" r="3.3"/><circle cx="243.1" cy="251.3" r="3.3"/><circle cx="187.2" cy="251.4" r="3.3"/><circle cx="285.4" cy="251" r="3.3"/><circle cx="303.2" cy="250.4" r="3.3"/><circle cx="307.3" cy="251" r="3.3"/><circle cx="214.7" cy="252.8" r="3.3"/><circle cx="166" cy="250.5" r="3.3"/><circle cx="182.2" cy="249.4" r="3.3"/><circle cx="147.8" cy="255.8" r="3.3"/><circle cx="146.8" cy="247" r="3.3"/><circle cx="131.2" cy="252.1" r="3.3"/><circle cx="292.3" cy="252.8" r="3.3"/><circle cx="156.5" cy="255.9" r="3.3"/><circle cx="147.5" cy="254.9" r="3.3"/><circle cx="226" cy="256" r="3.3"/><circle cx="258.7" cy="251.3" r="3.3"/><circle cx="182.5" cy="252.5" r="3.3"/><circle cx="99.4" cy="253.5" r="3.3"/><circle cx="145.5" cy="252.6" r="3.3"/><circle cx="144.6" cy="251.3" r="3.3"/><circle cx="155.5" cy="250.1" r="3.3"/><circle cx="194.4" cy="255.8" r="3.3"/><circle cx="280.9" cy="254.5" r="3.3"/><circle cx="228.8" cy="248.6" r="3.3"/><circle cx="241.7" cy="252.6" r="3.3"/><circle cx="190.1" cy="253.7" r="3.3"/><circle cx="158.4" cy="250.4" r="3.3"/><circle cx="150.6" cy="249.6" r="3.3"/><circle cx="125.3" cy="254.9" r="3.3"/><circle cx="104.3" cy="254.6" r="3.3"/><circle cx="311.1" cy="255.6" r="3.3"/><circle cx="222.4" cy="255.9" r="3.3"/><circle cx="139.4" cy="246.1" r="3.3"/><circle cx="326.2" cy="255.9" r="3.3"/><circle cx="191.3" cy="255.2" r="3.3"/><circle cx="117.6" cy="251.5" r="3.3"/><circle cx="192" cy="253.5" r="3.3"/><circle cx="266.9" cy="249.4" r="3.3"/><circle cx="328.5" cy="252.2" r="3.3"/><circle cx="289.1" cy="251.7" r="3.3"/><circle cx="313.7" cy="250.7" r="3.3"/><circle cx="178" cy="250" r="3.3"/><circle cx="186.7" cy="254.6" r="3.3"/><circle cx="170.5" cy="254.8" r="3.3"/><circle cx="185.1" cy="255.5" r="3.3"/><circle cx="250.6" cy="253.6" r="3.3"/><circle cx="170.9" cy="249.2" r="3.3"/><circle cx="318.8" cy="254.1" r="3.3"/><circle cx="150.9" cy="255.5" r="3.3"/><circle cx="150.2" cy="254.6" r="3.3"/><circle cx="137.1" cy="252.8" r="3.3"/><circle cx="289.9" cy="252" r="3.3"/><circle cx="252.2" cy="255.9" r="3.3"/><circle cx="234.5" cy="247.6" r="3.3"/><circle cx="151.3" cy="251.9" r="3.3"/><circle cx="289.6" cy="249.1" r="3.3"/><circle cx="249" cy="248.9" r="3.3"/><circle cx="192.5" cy="253.9" r="3.3"/><circle cx="142.1" cy="247.8" r="3.3"/><circle cx="305.5" cy="252.2" r="3.3"/><circle cx="100.3" cy="252.4" r="3.3"/><circle cx="310.4" cy="256.3" r="3.3"/><circle cx="303.1" cy="255.5" r="3.3"/><circle cx="146.8" cy="254.8" r="3.3"/><circle cx="278.8" cy="252.8" r="3.3"/><circle cx="322.2" cy="255.5" r="3.3"/><circle cx="103" cy="248.2" r="3.3"/><circle cx="261.7" cy="255.5" r="3.3"/><circle cx="305.4" cy="255.6" r="3.3"/><circle cx="326.4" cy="251.6" r="3.3"/><circle cx="129.7" cy="244.5" r="3.3"/><circle cx="136.2" cy="250.7" r="3.3"/><circle cx="278.7" cy="256.2" r="3.3"/><circle cx="328.9" cy="253.8" r="3.3"/><circle cx="280.3" cy="247.6" r="3.3"/><circle cx="304" cy="246.9" r="3.3"/><circle cx="210.3" cy="249" r="3.3"/><circle cx="234.8" cy="254.9" r="3.3"/><circle cx="271.9" cy="252" r="3.3"/><circle cx="286.7" cy="253.9" r="3.3"/><circle cx="268.2" cy="254.5" r="3.3"/><circle cx="204.5" cy="252.9" r="3.3"/><circle cx="205.6" cy="246.4" r="3.3"/><circle cx="99.3" cy="256.4" r="3.3"/><circle cx="242.5" cy="250.7" r="3.3"/><circle cx="221.6" cy="249.8" r="3.3"/><circle cx="307.5" cy="248.2" r="3.3"/><circle cx="138.1" cy="250.9" r="3.3"/><circle cx="113.8" cy="255.8" r="3.3"/><circle cx="279.6" cy="251.5" r="3.3"/><circle cx="201.7" cy="250.3" r="3.3"/><circle cx="184.5" cy="252.7" r="3.3"/><circle cx="214.2" cy="251.2" r="3.3"/><circle cx="115.4" cy="252.6" r="3.3"/><circle cx="206.4" cy="250.6" r="3.3"/><circle cx="308.5" cy="253.4" r="3.3"/><circle cx="185.2" cy="249.8" r="3.3"/><circle cx="188" cy="254.6" r="3.3"/><circle cx="229.5" cy="252.2" r="3.3"/><circle cx="104.7" cy="252.2" r="3.3"/><circle cx="99.3" cy="253.9" r="3.3"/><circle cx="98.4" cy="257.4" r="3.3"/><circle cx="98.7" cy="260.1" r="3.3"/><circle cx="99.2" cy="263.3" r="3.3"/><circle cx="99.3" cy="266.9" r="3.3"/><circle cx="98.7" cy="270.2" r="3.3"/><circle cx="99.3" cy="275.7" r="3.3"/><circle cx="330.9" cy="253.9" r="3.3"/><circle cx="331.5" cy="256.5" r="3.3"/><circle cx="330.9" cy="260" r="3.3"/><circle cx="331.1" cy="262.7" r="3.3"/><circle cx="331.5" cy="266.1" r="3.3"/><circle cx="331" cy="271.7" r="3.3"/><circle cx="331.4" cy="276.6" r="3.3"/></g>
<g fill="#000" fill-opacity="0.5" stroke="#000" stroke-opacity="0.45" stroke-width="1"><circle cx="145.6" cy="237.9" r="3.3"/><circle cx="158.9" cy="240.1" r="3.3"/><circle cx="160.4" cy="223.1" r="3.3"/><circle cx="213.9" cy="232.7" r="3.3"/><circle cx="181.8" cy="232.7" r="3.3"/><circle cx="110.3" cy="244.2" r="3.3"/><circle cx="133.5" cy="248.5" r="3.3"/><circle cx="260.9" cy="211.7" r="3.3"/><circle cx="310.1" cy="213.2" r="3.3"/><circle cx="214.9" cy="232.7" r="3.3"/><circle cx="327.2" cy="239.2" r="3.3"/><circle cx="270.2" cy="242" r="3.3"/><circle cx="102.8" cy="239.3" r="3.3"/><circle cx="190.7" cy="246.2" r="3.3"/><circle cx="132" cy="239.3" r="3.3"/><circle cx="153.5" cy="247.1" r="3.3"/><circle cx="134" cy="246.9" r="3.3"/><circle cx="253" cy="239.6" r="3.3"/><circle cx="223.7" cy="243.4" r="3.3"/><circle cx="195.3" cy="250" r="3.3"/><circle cx="121.5" cy="238.2" r="3.3"/><circle cx="317.1" cy="242.8" r="3.3"/><circle cx="145.9" cy="242" r="3.3"/><circle cx="184.3" cy="249.5" r="3.3"/><circle cx="148.6" cy="240.6" r="3.3"/><circle cx="235.1" cy="244.6" r="3.3"/><circle cx="320.3" cy="248.1" r="3.3"/><circle cx="182.1" cy="240.4" r="3.3"/><circle cx="293.2" cy="249.9" r="3.3"/><circle cx="107" cy="246.8" r="3.3"/><circle cx="300.6" cy="245.8" r="3.3"/><circle cx="150.4" cy="247.6" r="3.3"/><circle cx="268.6" cy="240.3" r="3.3"/><circle cx="248" cy="240.6" r="3.3"/><circle cx="109.6" cy="242" r="3.3"/><circle cx="177.2" cy="242.8" r="3.3"/><circle cx="249.4" cy="248" r="3.3"/><circle cx="322.1" cy="249.7" r="3.3"/><circle cx="329.5" cy="247.5" r="3.3"/><circle cx="170.8" cy="240.1" r="3.3"/><circle cx="244.1" cy="244.5" r="3.3"/><circle cx="255.8" cy="239.1" r="3.3"/><circle cx="144.5" cy="249.1" r="3.3"/><circle cx="238.9" cy="246.3" r="3.3"/><circle cx="122.1" cy="242.8" r="3.3"/><circle cx="310.2" cy="245.8" r="3.3"/><circle cx="329.1" cy="240.4" r="3.3"/><circle cx="205.1" cy="247.6" r="3.3"/><circle cx="202.7" cy="247.5" r="3.3"/><circle cx="229.7" cy="239.4" r="3.3"/><circle cx="122.8" cy="249.8" r="3.3"/><circle cx="127.6" cy="240.3" r="3.3"/><circle cx="177.4" cy="246.6" r="3.3"/><circle cx="297.3" cy="243.7" r="3.3"/><circle cx="215.1" cy="247.5" r="3.3"/><circle cx="164.2" cy="242.5" r="3.3"/><circle cx="241.5" cy="245.6" r="3.3"/></g>
<g fill="#000" fill-opacity="0.5" stroke="#000" stroke-opacity="0.45" stroke-width="1"><circle cx="111.3" cy="234.8" r="3.3"/><circle cx="109.9" cy="242.3" r="3.3"/><circle cx="116.4" cy="246" r="3.3"/><circle cx="121.5" cy="246.3" r="3.3"/><circle cx="128.3" cy="236.7" r="3.3"/><circle cx="128.7" cy="240.3" r="3.3"/><circle cx="171.2" cy="240.7" r="3.3"/><circle cx="147.3" cy="246.9" r="3.3"/><circle cx="154.8" cy="247.4" r="3.3"/><circle cx="160.1" cy="247.1" r="3.3"/><circle cx="180.2" cy="244.7" r="3.3"/><circle cx="201.7" cy="241.2" r="3.3"/><circle cx="205.6" cy="242.3" r="3.3"/><circle cx="196.5" cy="246.2" r="3.3"/><circle cx="206.6" cy="246.1" r="3.3"/><circle cx="213.5" cy="247.9" r="3.3"/><circle cx="179.2" cy="243.1" r="3.3"/><circle cx="286.5" cy="239.6" r="3.3"/><circle cx="292.2" cy="235.3" r="3.3"/><circle cx="292.8" cy="242.2" r="3.3"/><circle cx="306.3" cy="239.3" r="3.3"/><circle cx="312.9" cy="242.7" r="3.3"/><circle cx="230" cy="237.4" r="3.3"/><circle cx="231.4" cy="237.6" r="3.3"/><circle cx="238.8" cy="239.8" r="3.3"/><circle cx="246.8" cy="239" r="3.3"/><circle cx="245.3" cy="243.6" r="3.3"/><circle cx="222.2" cy="247.1" r="3.3"/><circle cx="215.5" cy="246.6" r="3.3"/><circle cx="252.8" cy="246.1" r="3.3"/><circle cx="276.4" cy="249.4" r="3.3"/><circle cx="286" cy="249.5" r="3.3"/><circle cx="311.3" cy="246.7" r="3.3"/><circle cx="318.6" cy="242.9" r="3.3"/><circle cx="331.3" cy="264.5" r="3.3"/></g>
<g fill="rgb(60,130,40)" fill-opacity="0.55"><circle cx="99.7" cy="260.7" r="1"/><circle cx="109.1" cy="261.2" r="1"/><circle cx="115.4" cy="261.3" r="1"/><circle cx="123.6" cy="260.7" r="1"/><circle cx="130.4" cy="261.2" r="1"/><circle cx="133.6" cy="260.9" r="1"/><circle cx="140.1" cy="260.5" r="1"/><circle cx="152.9" cy="260.9" r="1"/><circle cx="157.9" cy="260.7" r="1"/><circle cx="168.4" cy="260.8" r="1"/><circle cx="173.7" cy="261.2" r="1"/><circle cx="179.3" cy="261.1" r="1"/><circle cx="197.3" cy="260.8" r="1"/><circle cx="213.1" cy="260.2" r="1"/><circle cx="216.7" cy="260.8" r="1"/><circle cx="222.4" cy="260.2" r="1"/><circle cx="227.8" cy="260.7" r="1"/><circle cx="232.8" cy="260.1" r="1"/><circle cx="242.9" cy="261" r="1"/><circle cx="246.3" cy="261.2" r="1"/><circle cx="252.3" cy="261.3" r="1"/><circle cx="266.6" cy="260.5" r="1"/><circle cx="270.7" cy="261" r="1"/><circle cx="275.5" cy="260.4" r="1"/><circle cx="281.4" cy="260.2" r="1"/><circle cx="295.2" cy="261" r="1"/><circle cx="301.5" cy="260.7" r="1"/><circle cx="305.2" cy="260.9" r="1"/><circle cx="309.7" cy="260.4" r="1"/><circle cx="315" cy="260.3" r="1"/><circle cx="320.4" cy="261.2" r="1"/><circle cx="325.5" cy="260.2" r="1"/></g>
<g fill="rgb(120,210,95)" fill-opacity="0.62" stroke="#000" stroke-opacity="0.58" stroke-width="1.25"><circle cx="107.5" cy="227.1" r="3.2"/><circle cx="111.8" cy="234.2" r="3.2"/><circle cx="105.6" cy="239.2" r="3.2"/><circle cx="109.9" cy="238.7" r="3.2"/><circle cx="116.2" cy="243.5" r="3.2"/><circle cx="122" cy="243.5" r="3.2"/><circle cx="129.8" cy="228.1" r="3.2"/><circle cx="131.6" cy="231.2" r="3.2"/><circle cx="127.4" cy="236.1" r="3.2"/><circle cx="130.3" cy="238.3" r="3.2"/><circle cx="136.7" cy="229" r="3.2"/><circle cx="141.5" cy="223.4" r="3.2"/><circle cx="141.9" cy="229" r="3.2"/><circle cx="139.1" cy="239.2" r="3.2"/><circle cx="154.5" cy="217.5" r="3.2"/><circle cx="164.1" cy="220.6" r="3.2"/><circle cx="153.9" cy="229.9" r="3.2"/><circle cx="153.9" cy="232.3" r="3.2"/><circle cx="161.9" cy="231.8" r="3.2"/><circle cx="170.1" cy="239.2" r="3.2"/><circle cx="148.9" cy="245.7" r="3.2"/><circle cx="153.9" cy="245.7" r="3.2"/><circle cx="161" cy="246.3" r="3.2"/><circle cx="179" cy="243.9" r="3.2"/><circle cx="175.3" cy="245.7" r="3.2"/><circle cx="184.9" cy="231.8" r="3.2"/><circle cx="189.8" cy="227.1" r="3.2"/><circle cx="193.8" cy="237.4" r="3.2"/><circle cx="200" cy="206.7" r="3.2"/><circle cx="202.2" cy="239.2" r="3.2"/><circle cx="205.9" cy="238.7" r="3.2"/><circle cx="196.1" cy="245.7" r="3.2"/><circle cx="205" cy="245.3" r="3.2"/><circle cx="215.2" cy="245.7" r="3.2"/><circle cx="180.9" cy="241.1" r="3.2"/><circle cx="237.5" cy="205.8" r="3.2"/><circle cx="249.8" cy="214.7" r="3.2"/><circle cx="281.3" cy="209.5" r="3.2"/><circle cx="310.9" cy="194.3" r="3.2"/><circle cx="322.9" cy="196.9" r="3.2"/><circle cx="304" cy="221.2" r="3.2"/><circle cx="311.8" cy="229" r="3.2"/><circle cx="300.3" cy="231.2" r="3.2"/><circle cx="279.5" cy="224.9" r="3.2"/><circle cx="278" cy="229" r="3.2"/><circle cx="281.3" cy="236.4" r="3.2"/><circle cx="286.9" cy="237" r="3.2"/><circle cx="291.9" cy="234.6" r="3.2"/><circle cx="291" cy="242" r="3.2"/><circle cx="305.9" cy="238.7" r="3.2"/><circle cx="310.9" cy="238.7" r="3.2"/><circle cx="229.2" cy="233.6" r="3.2"/><circle cx="231" cy="237.4" r="3.2"/><circle cx="238.1" cy="237.4" r="3.2"/><circle cx="243.6" cy="236.1" r="3.2"/><circle cx="247.4" cy="235.5" r="3.2"/><circle cx="245.5" cy="242" r="3.2"/><circle cx="235.3" cy="245.7" r="3.2"/><circle cx="224.1" cy="243.9" r="3.2"/><circle cx="215.8" cy="245.7" r="3.2"/><circle cx="253.5" cy="245.7" r="3.2"/><circle cx="278" cy="246.3" r="3.2"/><circle cx="284.9" cy="246.3" r="3.2"/><circle cx="310.5" cy="245.7" r="3.2"/><circle cx="318.9" cy="242" r="3.2"/><circle cx="331.3" cy="246.6" r="3.2"/><circle cx="331.8" cy="261.1" r="3.2"/></g>
<path d="M86.70 191.2V281.25H343" fill="none" stroke="#000" stroke-width="1.5" stroke-linejoin="round"/>
<path d="M83.4 213.4H87M83.4 241.3H87M83.4 269H87M97.9 281.1V284.7M165.4 281.1V284.7M232.7 281.1V284.7M300.3 281.1V284.7" stroke="#333" stroke-width="1.2"/>
<text x="79.3" y="217.3" text-anchor="end" class="t">0.2</text>
<text x="79.3" y="245.2" text-anchor="end" class="t">0.1</text>
<text x="79.3" y="272.9" text-anchor="end" class="t">0.0</text>
<text x="97.9" y="298" text-anchor="middle" class="t">0</text>
<text x="165.4" y="298" text-anchor="middle" class="t">1000</text>
<text x="232.7" y="298" text-anchor="middle" class="t">2000</text>
<text x="300.3" y="298" text-anchor="middle" class="t">3000</text>
<text transform="translate(24 235.6) rotate(-90)" text-anchor="middle" class="h" style="font-size:15.5px">β</text>
<path d="M9.9 232.9L4.6 235.9L9.9 238.9" fill="none" stroke="#000" stroke-width="1.2"/>
<text x="443.6" y="179.6" class="h">OutFLANK</text>
<text transform="translate(377.6 235.8) rotate(-90)" text-anchor="middle" class="h">Fst</text>
<path d="M454.9 278.3Q451.9 278.3 451.9 275.3L451.9 256.4L455 252.4L457 251.5L459 250.5L461 249.5L463 248.5L465 247.5L467 246.7L469 246L471 245.3L473 244.7L475 244L477 243.9L479 243.7L481 243.6L483 243.5L485 243.3L487 243.2L489 243.1L491 243.1L493 243.3L495 243.5L497 243.7L499 243.9L501 245L503 247L505 247L507 245L509 244L511 243.9L513 243.8L515 243.7L517 243.6L519 243.5L521 243.4L523 243.3L525 243.2L527 243.1L529 243L531 243L533 243.1L535 243.1L537 243.1L539 243.2L541 243.2L543 243.2L545 243.2L547 243.3L549 243.3L551 243.3L553 243.4L555 243.4L557 243.4L559 243.5L561 243.4L563 243.3L565 243.2L567 243.1L569 243L571 242.8L573 242.7L575 242.6L577 242.5L579 242.4L581 242.2L583 242.1L585 242L587 242L589 242L591 242L593 242L595 242L597 242L599 242L601 242.1L603 242.4L605 242.6L607 242.9L609 243.1L611 243.4L613 243.6L615 243.9L617 244.1L619 244.4L621 244.4L623 244.1L625 243.9L627 243.6L629 243.4L631 243.1L633 242.9L635 242.6L637 242.4L639 242.1L641 241.9L643 241.8L645 241.8L647 241.7L649 241.6L651 241.4L653 241.3L655 241.2L657 241.2L659 241.1L661 241L663 241.1L665 241.1L667 241.2L669 241.2L671 241.3L673 241.3L675 241.4L677 241.4L679 241.5L681 241.8L683 242.4L685 243L687 243.6L688.1 244L691.2 248L691.2 275.3Q691.2 278.3 688.2 278.3Z" fill="#050706"/>
<g fill="#000" fill-opacity="0.5" stroke="#000" stroke-opacity="0.45" stroke-width="1"><circle cx="550.2" cy="231.2" r="3.3"/><circle cx="496.2" cy="242.7" r="3.3"/><circle cx="507.5" cy="243.8" r="3.3"/><circle cx="457.1" cy="253.9" r="3.3"/><circle cx="491.5" cy="222.3" r="3.3"/><circle cx="616.7" cy="245.2" r="3.3"/><circle cx="543.2" cy="236.3" r="3.3"/><circle cx="531" cy="239.3" r="3.3"/><circle cx="472.1" cy="242.1" r="3.3"/><circle cx="481.1" cy="237.5" r="3.3"/><circle cx="471.3" cy="231.7" r="3.3"/><circle cx="480.1" cy="235.5" r="3.3"/><circle cx="600.8" cy="243.2" r="3.3"/><circle cx="544.9" cy="246" r="3.3"/><circle cx="566.3" cy="241.8" r="3.3"/><circle cx="515.2" cy="244.3" r="3.3"/><circle cx="512.8" cy="235.6" r="3.3"/><circle cx="645.4" cy="241.3" r="3.3"/><circle cx="556.7" cy="234.4" r="3.3"/><circle cx="626.8" cy="243.9" r="3.3"/><circle cx="607.3" cy="239" r="3.3"/><circle cx="602" cy="232.2" r="3.3"/><circle cx="592.5" cy="239.6" r="3.3"/><circle cx="561.2" cy="245.2" r="3.3"/><circle cx="640.1" cy="242.2" r="3.3"/><circle cx="646.1" cy="238.2" r="3.3"/><circle cx="650.7" cy="240.2" r="3.3"/><circle cx="507" cy="246.9" r="3.3"/><circle cx="458.4" cy="253.7" r="3.3"/><circle cx="581.6" cy="233.9" r="3.3"/><circle cx="686.9" cy="243.5" r="3.3"/><circle cx="481" cy="242.6" r="3.3"/><circle cx="534.3" cy="240.5" r="3.3"/><circle cx="468.8" cy="240" r="3.3"/><circle cx="556" cy="236" r="3.3"/><circle cx="483.6" cy="243.3" r="3.3"/><circle cx="496.8" cy="237.4" r="3.3"/><circle cx="599.4" cy="233.3" r="3.3"/><circle cx="523.5" cy="242.6" r="3.3"/><circle cx="456.6" cy="249.8" r="3.3"/><circle cx="518.8" cy="242.5" r="3.3"/><circle cx="499.9" cy="236.8" r="3.3"/><circle cx="650.9" cy="241.5" r="3.3"/><circle cx="679" cy="239" r="3.3"/><circle cx="516.2" cy="238" r="3.3"/><circle cx="656.6" cy="240.6" r="3.3"/><circle cx="594.8" cy="236.3" r="3.3"/><circle cx="521.2" cy="243.9" r="3.3"/><circle cx="524.9" cy="238.2" r="3.3"/><circle cx="674.8" cy="238.8" r="3.3"/><circle cx="472" cy="248" r="3.3"/><circle cx="608.2" cy="227.1" r="3.3"/><circle cx="472.3" cy="237.3" r="3.3"/><circle cx="667.6" cy="240.2" r="3.3"/><circle cx="474.6" cy="236.1" r="3.3"/><circle cx="519.9" cy="238.7" r="3.3"/><circle cx="579.3" cy="242.8" r="3.3"/><circle cx="618.5" cy="242.2" r="3.3"/><circle cx="585.5" cy="239.5" r="3.3"/><circle cx="551.1" cy="243.7" r="3.3"/><circle cx="487.5" cy="240.7" r="3.3"/><circle cx="509" cy="245.1" r="3.3"/><circle cx="594.2" cy="238.3" r="3.3"/><circle cx="530.9" cy="245" r="3.3"/><circle cx="570.7" cy="243.3" r="3.3"/><circle cx="667.6" cy="242.6" r="3.3"/><circle cx="673.6" cy="238.7" r="3.3"/><circle cx="544.1" cy="233.3" r="3.3"/><circle cx="679.4" cy="244.1" r="3.3"/><circle cx="559.7" cy="234.5" r="3.3"/><circle cx="506.4" cy="244.1" r="3.3"/><circle cx="456.2" cy="242.9" r="3.3"/><circle cx="527.5" cy="240.9" r="3.3"/><circle cx="485.2" cy="245.3" r="3.3"/><circle cx="498.8" cy="243" r="3.3"/><circle cx="546.2" cy="246.1" r="3.3"/><circle cx="571.9" cy="241.6" r="3.3"/><circle cx="484.9" cy="241.3" r="3.3"/><circle cx="669.5" cy="236.3" r="3.3"/><circle cx="615.6" cy="238.3" r="3.3"/><circle cx="530" cy="240.4" r="3.3"/><circle cx="607.2" cy="242.2" r="3.3"/><circle cx="645.6" cy="230.7" r="3.3"/><circle cx="482.3" cy="245.3" r="3.3"/><circle cx="458.8" cy="244.7" r="3.3"/><circle cx="654.9" cy="239.8" r="3.3"/><circle cx="670.7" cy="239.8" r="3.3"/><circle cx="674.6" cy="237.5" r="3.3"/><circle cx="661.9" cy="241.5" r="3.3"/><circle cx="519" cy="241.3" r="3.3"/><circle cx="489.7" cy="245.5" r="3.3"/><circle cx="640.8" cy="237" r="3.3"/><circle cx="608.8" cy="243.9" r="3.3"/><circle cx="560" cy="242.3" r="3.3"/><circle cx="662.6" cy="230.4" r="3.3"/><circle cx="615.5" cy="244.7" r="3.3"/><circle cx="659.7" cy="236.4" r="3.3"/><circle cx="561.7" cy="246.4" r="3.3"/><circle cx="642" cy="244.2" r="3.3"/><circle cx="650.1" cy="239.5" r="3.3"/><circle cx="567" cy="243.2" r="3.3"/><circle cx="464.7" cy="247" r="3.3"/><circle cx="507.5" cy="245.9" r="3.3"/><circle cx="518.6" cy="245.8" r="3.3"/><circle cx="674.8" cy="243.9" r="3.3"/><circle cx="642.1" cy="244.8" r="3.3"/><circle cx="525.3" cy="241.1" r="3.3"/><circle cx="609.9" cy="236.4" r="3.3"/><circle cx="530.6" cy="242.2" r="3.3"/><circle cx="534.2" cy="230.4" r="3.3"/><circle cx="570.9" cy="235.4" r="3.3"/><circle cx="523.1" cy="246.1" r="3.3"/><circle cx="607.1" cy="245.7" r="3.3"/><circle cx="610.5" cy="239.2" r="3.3"/><circle cx="674.7" cy="237.6" r="3.3"/><circle cx="566.2" cy="233.8" r="3.3"/><circle cx="675" cy="237.5" r="3.3"/><circle cx="492.8" cy="243" r="3.3"/><circle cx="515.4" cy="239.3" r="3.3"/><circle cx="538.4" cy="240.1" r="3.3"/><circle cx="679.4" cy="243.2" r="3.3"/><circle cx="634" cy="245.5" r="3.3"/><circle cx="585" cy="240.5" r="3.3"/><circle cx="675" cy="236.4" r="3.3"/><circle cx="532.4" cy="244" r="3.3"/><circle cx="579.3" cy="229.1" r="3.3"/><circle cx="462" cy="250.8" r="3.3"/><circle cx="625.1" cy="247" r="3.3"/><circle cx="603.9" cy="234.9" r="3.3"/><circle cx="635.9" cy="236.4" r="3.3"/><circle cx="602.1" cy="237.9" r="3.3"/><circle cx="616.4" cy="243.2" r="3.3"/><circle cx="545.6" cy="236.9" r="3.3"/><circle cx="611.9" cy="241.9" r="3.3"/><circle cx="670.8" cy="234.7" r="3.3"/><circle cx="481.3" cy="245.7" r="3.3"/><circle cx="577.4" cy="240.9" r="3.3"/><circle cx="514.5" cy="244.2" r="3.3"/><circle cx="519.1" cy="245.1" r="3.3"/><circle cx="579.9" cy="231" r="3.3"/><circle cx="474.9" cy="234.9" r="3.3"/><circle cx="461.2" cy="251.7" r="3.3"/><circle cx="500.7" cy="235.6" r="3.3"/><circle cx="548.3" cy="245.4" r="3.3"/><circle cx="458.2" cy="254" r="3.3"/><circle cx="587.6" cy="240" r="3.3"/><circle cx="554.5" cy="240.3" r="3.3"/><circle cx="464.1" cy="247.7" r="3.3"/><circle cx="531.1" cy="239.6" r="3.3"/><circle cx="592" cy="237.8" r="3.3"/><circle cx="492.1" cy="233.3" r="3.3"/><circle cx="621.3" cy="244" r="3.3"/><circle cx="608.4" cy="239.6" r="3.3"/><circle cx="625.6" cy="245.4" r="3.3"/><circle cx="522.2" cy="232.4" r="3.3"/><circle cx="561.2" cy="236.5" r="3.3"/><circle cx="598.3" cy="235.9" r="3.3"/><circle cx="510.7" cy="246.3" r="3.3"/><circle cx="677.5" cy="241.4" r="3.3"/><circle cx="519.1" cy="240.4" r="3.3"/><circle cx="460.2" cy="234" r="3.3"/><circle cx="585.3" cy="233.7" r="3.3"/><circle cx="636.4" cy="244.7" r="3.3"/><circle cx="619.6" cy="232.3" r="3.3"/><circle cx="659" cy="226.4" r="3.3"/><circle cx="587.5" cy="243.5" r="3.3"/><circle cx="488.6" cy="240.6" r="3.3"/><circle cx="670.2" cy="240.8" r="3.3"/><circle cx="583.1" cy="237.5" r="3.3"/><circle cx="541.8" cy="240.7" r="3.3"/><circle cx="473.2" cy="244.6" r="3.3"/><circle cx="665.5" cy="243.4" r="3.3"/><circle cx="536.2" cy="238.3" r="3.3"/><circle cx="603" cy="244.4" r="3.3"/><circle cx="602.8" cy="239.2" r="3.3"/><circle cx="677.4" cy="240.8" r="3.3"/><circle cx="457.7" cy="249.3" r="3.3"/><circle cx="605.7" cy="238.1" r="3.3"/><circle cx="552.3" cy="244.4" r="3.3"/><circle cx="455" cy="245.8" r="3.3"/><circle cx="546" cy="242.6" r="3.3"/><circle cx="498.3" cy="242.2" r="3.3"/><circle cx="605" cy="222.8" r="3.3"/><circle cx="676.8" cy="238.7" r="3.3"/><circle cx="526.7" cy="241.4" r="3.3"/><circle cx="555.9" cy="245.6" r="3.3"/><circle cx="553.8" cy="243.5" r="3.3"/><circle cx="524.8" cy="245" r="3.3"/><circle cx="550.6" cy="246.4" r="3.3"/><circle cx="602.7" cy="241.6" r="3.3"/><circle cx="543.4" cy="244.5" r="3.3"/><circle cx="499.6" cy="235.2" r="3.3"/><circle cx="619.5" cy="237.3" r="3.3"/><circle cx="459.8" cy="242.2" r="3.3"/><circle cx="528" cy="239.7" r="3.3"/><circle cx="545.8" cy="245.7" r="3.3"/><circle cx="589.4" cy="244.1" r="3.3"/><circle cx="521.4" cy="230.8" r="3.3"/><circle cx="616" cy="243.6" r="3.3"/><circle cx="659.3" cy="243.3" r="3.3"/><circle cx="495.9" cy="243" r="3.3"/><circle cx="671.3" cy="243.3" r="3.3"/><circle cx="527.3" cy="225.1" r="3.3"/><circle cx="489.2" cy="244.3" r="3.3"/><circle cx="473.2" cy="247" r="3.3"/><circle cx="484.5" cy="244.3" r="3.3"/><circle cx="514.4" cy="239.6" r="3.3"/><circle cx="468.2" cy="249" r="3.3"/><circle cx="672.1" cy="242.5" r="3.3"/><circle cx="629.6" cy="246.4" r="3.3"/><circle cx="510.5" cy="245.5" r="3.3"/><circle cx="483.3" cy="245.2" r="3.3"/><circle cx="541.5" cy="238.1" r="3.3"/><circle cx="679.9" cy="228.1" r="3.3"/><circle cx="503.1" cy="239.4" r="3.3"/><circle cx="644.3" cy="233.7" r="3.3"/><circle cx="674.2" cy="242.6" r="3.3"/><circle cx="548.7" cy="245.4" r="3.3"/><circle cx="651.6" cy="241.5" r="3.3"/><circle cx="614.1" cy="239.3" r="3.3"/><circle cx="558.5" cy="243.3" r="3.3"/><circle cx="630.3" cy="240.7" r="3.3"/><circle cx="490.5" cy="240.4" r="3.3"/><circle cx="533.7" cy="242.6" r="3.3"/><circle cx="517.2" cy="243.3" r="3.3"/><circle cx="611.5" cy="245.9" r="3.3"/><circle cx="610.2" cy="241.8" r="3.3"/><circle cx="592.4" cy="238.1" r="3.3"/><circle cx="640.2" cy="237.3" r="3.3"/><circle cx="629.3" cy="245.8" r="3.3"/><circle cx="644.2" cy="238.3" r="3.3"/><circle cx="508.4" cy="237.3" r="3.3"/><circle cx="644.3" cy="232.8" r="3.3"/><circle cx="628.7" cy="241.7" r="3.3"/><circle cx="503.3" cy="238" r="3.3"/><circle cx="610.4" cy="240.4" r="3.3"/><circle cx="458.9" cy="245.7" r="3.3"/><circle cx="607.1" cy="243.7" r="3.3"/><circle cx="483.7" cy="244.1" r="3.3"/><circle cx="606.1" cy="239" r="3.3"/><circle cx="518.5" cy="246.3" r="3.3"/><circle cx="615" cy="242.6" r="3.3"/><circle cx="600.2" cy="241.7" r="3.3"/><circle cx="649.9" cy="243" r="3.3"/><circle cx="515.8" cy="227.1" r="3.3"/><circle cx="643.9" cy="235.5" r="3.3"/><circle cx="487.2" cy="234.4" r="3.3"/><circle cx="552.1" cy="237.5" r="3.3"/><circle cx="462.5" cy="246.7" r="3.3"/><circle cx="512.8" cy="243" r="3.3"/><circle cx="463.5" cy="250.9" r="3.3"/><circle cx="522.2" cy="243.9" r="3.3"/><circle cx="617.8" cy="247.4" r="3.3"/><circle cx="510.2" cy="233" r="3.3"/><circle cx="494.7" cy="236.1" r="3.3"/><circle cx="627.2" cy="236.9" r="3.3"/><circle cx="627.7" cy="235.8" r="3.3"/><circle cx="666.9" cy="237.9" r="3.3"/><circle cx="598.6" cy="236" r="3.3"/><circle cx="463.2" cy="239.8" r="3.3"/><circle cx="457.5" cy="252.1" r="3.3"/><circle cx="681.1" cy="237.7" r="3.3"/><circle cx="626.6" cy="237.3" r="3.3"/><circle cx="551.9" cy="242.4" r="3.3"/><circle cx="664.7" cy="238.7" r="3.3"/><circle cx="673.1" cy="239.4" r="3.3"/><circle cx="645.1" cy="227.8" r="3.3"/><circle cx="468.3" cy="238.4" r="3.3"/><circle cx="659.1" cy="235.4" r="3.3"/><circle cx="660.1" cy="241.4" r="3.3"/><circle cx="553.4" cy="241.2" r="3.3"/><circle cx="614.3" cy="244.7" r="3.3"/><circle cx="622.2" cy="245.2" r="3.3"/><circle cx="658.6" cy="240.1" r="3.3"/><circle cx="569.5" cy="242" r="3.3"/><circle cx="484.2" cy="243" r="3.3"/><circle cx="488.4" cy="233" r="3.3"/><circle cx="617.7" cy="246.2" r="3.3"/><circle cx="681.3" cy="234" r="3.3"/><circle cx="654.7" cy="243.6" r="3.3"/><circle cx="667.6" cy="229.1" r="3.3"/><circle cx="586.4" cy="244.1" r="3.3"/><circle cx="631.2" cy="240.2" r="3.3"/><circle cx="573.5" cy="229.5" r="3.3"/><circle cx="473.7" cy="236" r="3.3"/><circle cx="596.6" cy="240.5" r="3.3"/><circle cx="652.1" cy="237.9" r="3.3"/><circle cx="686.3" cy="233.5" r="3.3"/><circle cx="567" cy="236" r="3.3"/><circle cx="473.4" cy="241.1" r="3.3"/><circle cx="640.3" cy="242.2" r="3.3"/><circle cx="665.8" cy="237.1" r="3.3"/><circle cx="542.9" cy="243.4" r="3.3"/><circle cx="623.4" cy="241.3" r="3.3"/><circle cx="480.7" cy="242.6" r="3.3"/><circle cx="662.1" cy="237.4" r="3.3"/><circle cx="647.4" cy="237.8" r="3.3"/><circle cx="651.9" cy="239.2" r="3.3"/><circle cx="683.5" cy="241.2" r="3.3"/><circle cx="638" cy="244.3" r="3.3"/><circle cx="499.8" cy="241.5" r="3.3"/><circle cx="470.7" cy="244.7" r="3.3"/><circle cx="460.2" cy="251" r="3.3"/><circle cx="603.8" cy="244.4" r="3.3"/><circle cx="628.8" cy="245.4" r="3.3"/><circle cx="601" cy="236" r="3.3"/><circle cx="657" cy="240" r="3.3"/><circle cx="494" cy="236.6" r="3.3"/><circle cx="613.9" cy="239.8" r="3.3"/><circle cx="615.2" cy="247" r="3.3"/><circle cx="491.3" cy="243.5" r="3.3"/><circle cx="513.4" cy="246.9" r="3.3"/><circle cx="551.2" cy="245.7" r="3.3"/><circle cx="474.6" cy="237.4" r="3.3"/><circle cx="604.7" cy="239.3" r="3.3"/><circle cx="678.5" cy="241.4" r="3.3"/><circle cx="575.7" cy="239.9" r="3.3"/><circle cx="518.7" cy="246.5" r="3.3"/><circle cx="495.7" cy="246.5" r="3.3"/><circle cx="611" cy="240.2" r="3.3"/><circle cx="583.4" cy="240.3" r="3.3"/><circle cx="455.5" cy="250.1" r="3.3"/><circle cx="604.5" cy="243.8" r="3.3"/><circle cx="566.2" cy="245.5" r="3.3"/><circle cx="490.1" cy="236" r="3.3"/><circle cx="643.3" cy="244.8" r="3.3"/><circle cx="602.3" cy="233.2" r="3.3"/><circle cx="461.2" cy="242.8" r="3.3"/><circle cx="535.8" cy="242.4" r="3.3"/><circle cx="665.4" cy="238.3" r="3.3"/><circle cx="524.3" cy="244.6" r="3.3"/><circle cx="576.4" cy="236" r="3.3"/><circle cx="655.7" cy="222.6" r="3.3"/><circle cx="533" cy="240.8" r="3.3"/><circle cx="579.8" cy="236.6" r="3.3"/><circle cx="598" cy="234.4" r="3.3"/><circle cx="568.1" cy="238.6" r="3.3"/><circle cx="501.9" cy="248.3" r="3.3"/><circle cx="561.2" cy="245.5" r="3.3"/><circle cx="512.8" cy="243.9" r="3.3"/><circle cx="522.7" cy="245.5" r="3.3"/><circle cx="660" cy="235" r="3.3"/><circle cx="547.7" cy="243.6" r="3.3"/><circle cx="461.8" cy="246.5" r="3.3"/><circle cx="570.2" cy="238.3" r="3.3"/><circle cx="606.4" cy="243.9" r="3.3"/><circle cx="592.9" cy="239.5" r="3.3"/><circle cx="491.9" cy="235.6" r="3.3"/><circle cx="609.5" cy="235.2" r="3.3"/><circle cx="651.5" cy="236.7" r="3.3"/><circle cx="568.1" cy="236.9" r="3.3"/><circle cx="456.7" cy="247.9" r="3.3"/><circle cx="471.1" cy="244.4" r="3.3"/><circle cx="541.9" cy="232.8" r="3.3"/><circle cx="619.9" cy="237" r="3.3"/><circle cx="457.4" cy="254.4" r="3.3"/><circle cx="673" cy="241.5" r="3.3"/><circle cx="585.8" cy="244" r="3.3"/><circle cx="658.2" cy="233" r="3.3"/><circle cx="476.3" cy="244.9" r="3.3"/><circle cx="494.4" cy="245.6" r="3.3"/><circle cx="598.8" cy="243.2" r="3.3"/><circle cx="456.2" cy="243.3" r="3.3"/><circle cx="489.6" cy="243.5" r="3.3"/><circle cx="687.6" cy="235.9" r="3.3"/><circle cx="622.7" cy="240" r="3.3"/><circle cx="586.7" cy="236.9" r="3.3"/><circle cx="619" cy="240.4" r="3.3"/><circle cx="539.9" cy="227.7" r="3.3"/><circle cx="519" cy="245.7" r="3.3"/><circle cx="671.4" cy="241.9" r="3.3"/><circle cx="666.8" cy="244.3" r="3.3"/><circle cx="535.7" cy="237.3" r="3.3"/><circle cx="518.6" cy="236.3" r="3.3"/><circle cx="640.1" cy="231.1" r="3.3"/><circle cx="592.8" cy="235.3" r="3.3"/><circle cx="683.3" cy="233.5" r="3.3"/><circle cx="523" cy="243.7" r="3.3"/><circle cx="518.6" cy="234.3" r="3.3"/><circle cx="680.1" cy="241.7" r="3.3"/><circle cx="552.2" cy="243.6" r="3.3"/><circle cx="502.4" cy="248.3" r="3.3"/><circle cx="627.9" cy="243.9" r="3.3"/><circle cx="655.4" cy="235.9" r="3.3"/><circle cx="613" cy="228.9" r="3.3"/><circle cx="615.7" cy="242.5" r="3.3"/><circle cx="492.5" cy="230.3" r="3.3"/><circle cx="518.1" cy="242.2" r="3.3"/><circle cx="574.2" cy="242.9" r="3.3"/><circle cx="555.3" cy="233.8" r="3.3"/><circle cx="612.1" cy="243.5" r="3.3"/><circle cx="541.9" cy="244.3" r="3.3"/><circle cx="625.2" cy="239.1" r="3.3"/><circle cx="546.9" cy="232.7" r="3.3"/><circle cx="612.5" cy="232.6" r="3.3"/><circle cx="494" cy="239.8" r="3.3"/><circle cx="472.6" cy="244.7" r="3.3"/><circle cx="625.6" cy="240.8" r="3.3"/><circle cx="598.3" cy="244.7" r="3.3"/><circle cx="547.9" cy="244.1" r="3.3"/><circle cx="681.5" cy="230.1" r="3.3"/><circle cx="547.2" cy="237.5" r="3.3"/><circle cx="597.2" cy="233" r="3.3"/><circle cx="642.4" cy="230" r="3.3"/><circle cx="611.2" cy="236" r="3.3"/><circle cx="509.5" cy="246.9" r="3.3"/><circle cx="601.4" cy="242.8" r="3.3"/><circle cx="563.7" cy="244.7" r="3.3"/><circle cx="570.3" cy="222.5" r="3.3"/><circle cx="590.1" cy="240.9" r="3.3"/><circle cx="561.8" cy="240.9" r="3.3"/><circle cx="659.9" cy="240.8" r="3.3"/><circle cx="600.5" cy="245.1" r="3.3"/><circle cx="663.7" cy="226.3" r="3.3"/><circle cx="662.5" cy="226.5" r="3.3"/><circle cx="616.1" cy="244.7" r="3.3"/><circle cx="575.2" cy="227.5" r="3.3"/><circle cx="565.9" cy="241.5" r="3.3"/><circle cx="526.2" cy="237.8" r="3.3"/><circle cx="634.6" cy="235.6" r="3.3"/><circle cx="523.1" cy="242.1" r="3.3"/><circle cx="484.1" cy="239.7" r="3.3"/><circle cx="596.4" cy="240.2" r="3.3"/><circle cx="489.1" cy="239.8" r="3.3"/><circle cx="674.5" cy="242.3" r="3.3"/><circle cx="576.3" cy="241.1" r="3.3"/><circle cx="613.2" cy="244.4" r="3.3"/><circle cx="525.4" cy="243.2" r="3.3"/><circle cx="659.4" cy="238.3" r="3.3"/><circle cx="617.2" cy="246.4" r="3.3"/><circle cx="638.9" cy="244.8" r="3.3"/><circle cx="462.2" cy="251" r="3.3"/><circle cx="474.7" cy="242.4" r="3.3"/><circle cx="668.8" cy="242.3" r="3.3"/><circle cx="512.6" cy="242.9" r="3.3"/><circle cx="665.2" cy="243" r="3.3"/><circle cx="507.1" cy="247.1" r="3.3"/><circle cx="502.3" cy="242.8" r="3.3"/><circle cx="474.6" cy="246.2" r="3.3"/><circle cx="525.2" cy="243.1" r="3.3"/><circle cx="460.6" cy="243.9" r="3.3"/><circle cx="668.9" cy="241.5" r="3.3"/><circle cx="461.6" cy="248.4" r="3.3"/><circle cx="538.6" cy="245.1" r="3.3"/><circle cx="669" cy="232.9" r="3.3"/><circle cx="496.3" cy="233.8" r="3.3"/><circle cx="490" cy="241.9" r="3.3"/><circle cx="594" cy="239.4" r="3.3"/><circle cx="465" cy="250.1" r="3.3"/><circle cx="530.1" cy="245.9" r="3.3"/><circle cx="583.1" cy="244.3" r="3.3"/><circle cx="630.2" cy="233.7" r="3.3"/><circle cx="600" cy="237.4" r="3.3"/><circle cx="574.6" cy="243.2" r="3.3"/><circle cx="650" cy="239.1" r="3.3"/><circle cx="654.7" cy="244.5" r="3.3"/><circle cx="630.6" cy="237.9" r="3.3"/><circle cx="634" cy="243.9" r="3.3"/><circle cx="682.9" cy="243.7" r="3.3"/><circle cx="594.9" cy="245" r="3.3"/><circle cx="500.9" cy="240.1" r="3.3"/><circle cx="518.5" cy="239.9" r="3.3"/><circle cx="636" cy="232.7" r="3.3"/><circle cx="469.5" cy="239.9" r="3.3"/><circle cx="678.2" cy="243.7" r="3.3"/><circle cx="519" cy="244.6" r="3.3"/><circle cx="455.4" cy="252.4" r="3.3"/><circle cx="454.6" cy="257.4" r="3.3"/><circle cx="454.9" cy="262.3" r="3.3"/><circle cx="455.3" cy="266.1" r="3.3"/><circle cx="455.1" cy="269" r="3.3"/><circle cx="455.4" cy="272.4" r="3.3"/><circle cx="688.5" cy="244" r="3.3"/><circle cx="687.7" cy="247" r="3.3"/><circle cx="687.7" cy="250.8" r="3.3"/><circle cx="688.1" cy="253.9" r="3.3"/><circle cx="688.2" cy="258.7" r="3.3"/><circle cx="688.3" cy="264.3" r="3.3"/><circle cx="688.2" cy="269.8" r="3.3"/><circle cx="688.6" cy="273.4" r="3.3"/></g>
<g fill="#000" fill-opacity="0.5" stroke="#000" stroke-opacity="0.45" stroke-width="1"><circle cx="489.5" cy="229.7" r="3.3"/><circle cx="491.8" cy="227.9" r="3.3"/><circle cx="488.6" cy="227.1" r="3.3"/><circle cx="488.1" cy="227" r="3.3"/><circle cx="495.3" cy="225.6" r="3.3"/><circle cx="499.4" cy="226.5" r="3.3"/><circle cx="496.4" cy="225" r="3.3"/><circle cx="498" cy="224.6" r="3.3"/><circle cx="491.9" cy="235.2" r="3.3"/><circle cx="494.6" cy="231.6" r="3.3"/><circle cx="491.9" cy="231.5" r="3.3"/><circle cx="496.3" cy="231.5" r="3.3"/><circle cx="505.6" cy="233.8" r="3.3"/><circle cx="502.7" cy="230.9" r="3.3"/><circle cx="504.9" cy="233.6" r="3.3"/><circle cx="503.4" cy="230.3" r="3.3"/><circle cx="638.7" cy="225.2" r="3.3"/><circle cx="640.9" cy="229.1" r="3.3"/><circle cx="639.7" cy="225.2" r="3.3"/><circle cx="641.1" cy="228.7" r="3.3"/><circle cx="646.8" cy="230.6" r="3.3"/><circle cx="647.7" cy="232.2" r="3.3"/><circle cx="646.4" cy="231.7" r="3.3"/><circle cx="644.7" cy="231.3" r="3.3"/><circle cx="633.5" cy="234.4" r="3.3"/><circle cx="631.2" cy="235.1" r="3.3"/><circle cx="633.7" cy="231.2" r="3.3"/><circle cx="630.3" cy="232.1" r="3.3"/><circle cx="657.6" cy="234.8" r="3.3"/><circle cx="660.7" cy="233.7" r="3.3"/><circle cx="662.5" cy="232.8" r="3.3"/><circle cx="658.5" cy="231.6" r="3.3"/><circle cx="471.2" cy="237.2" r="3.3"/><circle cx="472.5" cy="233.3" r="3.3"/><circle cx="471.7" cy="233.2" r="3.3"/><circle cx="472.6" cy="233.6" r="3.3"/><circle cx="558.4" cy="236.2" r="3.3"/><circle cx="561.7" cy="236.1" r="3.3"/><circle cx="559" cy="236.2" r="3.3"/><circle cx="558.9" cy="233" r="3.3"/><circle cx="578.9" cy="234.4" r="3.3"/><circle cx="580.6" cy="232" r="3.3"/><circle cx="581.7" cy="235.2" r="3.3"/><circle cx="578.9" cy="235.8" r="3.3"/><circle cx="613.8" cy="233.3" r="3.3"/><circle cx="615.1" cy="237.3" r="3.3"/><circle cx="615.5" cy="235.7" r="3.3"/><circle cx="614.9" cy="234.4" r="3.3"/><circle cx="519" cy="233" r="3.3"/><circle cx="520.2" cy="235.7" r="3.3"/><circle cx="517.9" cy="232.3" r="3.3"/><circle cx="522.2" cy="234.3" r="3.3"/><circle cx="537.9" cy="235.2" r="3.3"/><circle cx="540.8" cy="237.6" r="3.3"/><circle cx="537.9" cy="237.5" r="3.3"/><circle cx="541.4" cy="234.4" r="3.3"/></g>
<g fill="#000" fill-opacity="0.5" stroke="#000" stroke-opacity="0.45" stroke-width="1"><circle cx="459.5" cy="218.2" r="3.3"/><circle cx="465.1" cy="225.3" r="3.3"/><circle cx="468.2" cy="229.9" r="3.3"/><circle cx="462.6" cy="238.7" r="3.3"/><circle cx="455.2" cy="245.7" r="3.3"/><circle cx="490.5" cy="216.6" r="3.3"/><circle cx="500.7" cy="212.3" r="3.3"/><circle cx="498.9" cy="217.9" r="3.3"/><circle cx="497.9" cy="224.4" r="3.3"/><circle cx="486.8" cy="228.1" r="3.3"/><circle cx="494.2" cy="228.1" r="3.3"/><circle cx="511.5" cy="213.8" r="3.3"/><circle cx="510" cy="218.8" r="3.3"/><circle cx="521.5" cy="218.2" r="3.3"/><circle cx="518.4" cy="222.5" r="3.3"/><circle cx="510.9" cy="230.9" r="3.3"/><circle cx="519.3" cy="231.8" r="3.3"/><circle cx="502.6" cy="236.4" r="3.3"/><circle cx="529.5" cy="227.1" r="3.3"/><circle cx="533.2" cy="224.4" r="3.3"/><circle cx="546.8" cy="225.7" r="3.3"/><circle cx="540.6" cy="229.9" r="3.3"/><circle cx="551.8" cy="231.8" r="3.3"/><circle cx="557" cy="207.1" r="3.3"/><circle cx="562.9" cy="235.5" r="3.3"/><circle cx="571.3" cy="229.9" r="3.3"/><circle cx="524.9" cy="234.6" r="3.3"/><circle cx="594.5" cy="205.8" r="3.3"/><circle cx="606.8" cy="212.7" r="3.3"/><circle cx="617.9" cy="210.1" r="3.3"/><circle cx="637.8" cy="208.9" r="3.3"/><circle cx="667.5" cy="194.3" r="3.3"/><circle cx="679.2" cy="198.9" r="3.3"/><circle cx="666.6" cy="211.9" r="3.3"/><circle cx="670.6" cy="216.6" r="3.3"/><circle cx="660.6" cy="218.8" r="3.3"/><circle cx="656.9" cy="227.5" r="3.3"/><circle cx="668.4" cy="226.2" r="3.3"/><circle cx="635.9" cy="221.6" r="3.3"/><circle cx="642.4" cy="223.4" r="3.3"/><circle cx="648" cy="228.1" r="3.3"/><circle cx="571.9" cy="229.9" r="3.3"/><circle cx="585.8" cy="230.5" r="3.3"/><circle cx="605.3" cy="231.8" r="3.3"/><circle cx="629.4" cy="231.8" r="3.3"/><circle cx="684.2" cy="231.8" r="3.3"/><circle cx="662.9" cy="234.6" r="3.3"/><circle cx="484.7" cy="232.7" r="3.3"/><circle cx="491.4" cy="233.1" r="3.3"/><circle cx="496.9" cy="233.1" r="3.3"/><circle cx="510.7" cy="225" r="3.3"/><circle cx="593.5" cy="233.1" r="3.3"/><circle cx="600.6" cy="233.1" r="3.3"/><circle cx="634.4" cy="226.2" r="3.3"/><circle cx="639" cy="229.7" r="3.3"/><circle cx="638.1" cy="233.7" r="3.3"/><circle cx="640.9" cy="233.1" r="3.3"/><circle cx="667.8" cy="233.1" r="3.3"/><circle cx="678" cy="233.1" r="3.3"/></g>
<path d="M443.30 190.5V281.25H700" fill="none" stroke="#000" stroke-width="1.5" stroke-linejoin="round"/>
<path d="M440 212.5H443.6M440 238.5H443.6M440 264.8H443.6M454.5 281.1V284.7M521.3 281.1V284.7M588.2 281.1V284.7M655 281.1V284.7" stroke="#333" stroke-width="1.2"/>
<text x="435.9" y="216.4" text-anchor="end" class="t">0.2</text>
<text x="435.9" y="242.4" text-anchor="end" class="t">0.1</text>
<text x="435.9" y="268.7" text-anchor="end" class="t">0.0</text>
<text x="454.5" y="298" text-anchor="middle" class="t">0</text>
<text x="521.3" y="298" text-anchor="middle" class="t">1000</text>
<text x="588.2" y="298" text-anchor="middle" class="t">2000</text>
<text x="655" y="298" text-anchor="middle" class="t">3000</text>
<text x="571.8" y="313.5" text-anchor="middle" class="h">SNP Index</text>
<text x="86.8" y="345.1" class="h">pcadapt</text>
<text transform="translate(13.4 402.5) rotate(-90)" text-anchor="middle" class="h">Test Statistic</text>
<text transform="translate(29.4 402.5) rotate(-90)" text-anchor="middle" class="h">(Mahalanobis Distance)</text>
<path d="M98.4 445.3Q95.4 445.3 95.4 442.3L95.4 428.9L98.5 424.9L100.5 424.8L102.5 424.7L104.5 424.6L106.5 424.5L108.5 424.5L110.5 424.4L112.5 424.3L114.5 424.2L116.5 424.1L118.5 424.1L120.5 424L122.5 424L124.5 424L126.5 424L128.5 424L130.5 424L132.5 424L134.5 424L136.5 424L138.5 424L140.5 424L142.5 424L144.5 424L146.5 424L148.5 424L150.5 424L152.5 424L154.5 424L156.5 424L158.5 424L160.5 424L162.5 424L164.5 424.1L166.5 424.1L168.5 424.1L170.5 424.1L172.5 424.2L174.5 424.2L176.5 424.2L178.5 424.2L180.5 424.3L182.5 424.3L184.5 424.3L186.5 424.3L188.5 424.4L190.5 424.4L192.5 424.4L194.5 424.4L196.5 424.5L198.5 424.5L200.5 424.5L202.5 424.5L204.5 424.6L206.5 424.6L208.5 424.6L210.5 424.6L212.5 424.7L214.5 424.7L216.5 424.7L218.5 424.7L220.5 424.8L222.5 424.8L224.5 424.8L226.5 424.8L228.5 424.9L230.5 424.9L232.5 424.9L234.5 424.9L236.5 425L238.5 425L240.5 425L242.5 425L244.5 425L246.5 425L248.5 425L250.5 425L252.5 425L254.5 425L256.5 425L258.5 425L260.5 425L262.5 425L264.5 425L266.5 425L268.5 425L270.5 425L272.5 425L274.5 425L276.5 425L278.5 425L280.5 425L282.5 425L284.5 425L286.5 425L288.5 425L290.5 425L292.5 425L294.5 425L296.5 425L298.5 425L300.5 425L302.5 425.1L304.5 425.1L306.5 425.2L308.5 425.2L310.5 425.3L312.5 425.4L314.5 425.4L316.5 425.5L318.5 425.5L320.5 425.6L322.5 425.7L324.5 425.7L326.5 425.8L328.5 425.8L330.5 425.9L331.3 425.9L334.4 429.9L334.4 442.3Q334.4 445.3 331.4 445.3Z" fill="#050706"/>
<g fill="#000" fill-opacity="0.5" stroke="#000" stroke-opacity="0.45" stroke-width="1"><circle cx="119.5" cy="424.8" r="3.3"/><circle cx="270.6" cy="427.4" r="3.3"/><circle cx="294.3" cy="428.1" r="3.3"/><circle cx="180.4" cy="423.6" r="3.3"/><circle cx="266.5" cy="421.7" r="3.3"/><circle cx="224.3" cy="426.6" r="3.3"/><circle cx="188.8" cy="421.6" r="3.3"/><circle cx="198.3" cy="423.7" r="3.3"/><circle cx="222.9" cy="423.7" r="3.3"/><circle cx="108.1" cy="423" r="3.3"/><circle cx="152.2" cy="425.6" r="3.3"/><circle cx="293.6" cy="422.6" r="3.3"/><circle cx="110.7" cy="427" r="3.3"/><circle cx="272.4" cy="422.9" r="3.3"/><circle cx="143.9" cy="426.8" r="3.3"/><circle cx="169.7" cy="422.7" r="3.3"/><circle cx="291.6" cy="420" r="3.3"/><circle cx="170.8" cy="420.8" r="3.3"/><circle cx="182.8" cy="426" r="3.3"/><circle cx="294.6" cy="423.4" r="3.3"/><circle cx="150" cy="422.6" r="3.3"/><circle cx="168.7" cy="425.7" r="3.3"/><circle cx="128.8" cy="425.7" r="3.3"/><circle cx="207.8" cy="423.4" r="3.3"/><circle cx="238.8" cy="421.7" r="3.3"/><circle cx="305.9" cy="423.2" r="3.3"/><circle cx="157.7" cy="424.4" r="3.3"/><circle cx="167.9" cy="420.9" r="3.3"/><circle cx="161.3" cy="423.2" r="3.3"/><circle cx="203.5" cy="425.4" r="3.3"/><circle cx="211.8" cy="422.2" r="3.3"/><circle cx="127.6" cy="426.5" r="3.3"/><circle cx="150.8" cy="422.5" r="3.3"/><circle cx="139.1" cy="425.4" r="3.3"/><circle cx="162.9" cy="419.2" r="3.3"/><circle cx="267.7" cy="427.1" r="3.3"/><circle cx="181.2" cy="421.3" r="3.3"/><circle cx="229.3" cy="424.6" r="3.3"/><circle cx="247.6" cy="421.3" r="3.3"/><circle cx="145.1" cy="425.6" r="3.3"/><circle cx="174.7" cy="416.6" r="3.3"/><circle cx="192.9" cy="425.5" r="3.3"/><circle cx="248.9" cy="425.5" r="3.3"/><circle cx="156.2" cy="416.9" r="3.3"/><circle cx="224.4" cy="425.1" r="3.3"/><circle cx="202.2" cy="421.4" r="3.3"/><circle cx="249.1" cy="415.2" r="3.3"/><circle cx="228.5" cy="427.2" r="3.3"/><circle cx="237" cy="428" r="3.3"/><circle cx="248.1" cy="423.1" r="3.3"/><circle cx="194.5" cy="425.5" r="3.3"/><circle cx="301.9" cy="426.2" r="3.3"/><circle cx="146.4" cy="420.1" r="3.3"/><circle cx="150" cy="426.6" r="3.3"/><circle cx="286.5" cy="417.4" r="3.3"/><circle cx="146.2" cy="425.6" r="3.3"/><circle cx="197.5" cy="425.3" r="3.3"/><circle cx="197.7" cy="424.9" r="3.3"/><circle cx="197.9" cy="420.5" r="3.3"/><circle cx="174.2" cy="421.8" r="3.3"/><circle cx="111.6" cy="427.5" r="3.3"/><circle cx="104.3" cy="423" r="3.3"/><circle cx="274.2" cy="427.2" r="3.3"/><circle cx="289.3" cy="421.7" r="3.3"/><circle cx="161.3" cy="424.9" r="3.3"/><circle cx="298.5" cy="424.6" r="3.3"/><circle cx="331" cy="424.7" r="3.3"/><circle cx="269.6" cy="426.6" r="3.3"/><circle cx="266" cy="426.3" r="3.3"/><circle cx="181.3" cy="427.4" r="3.3"/><circle cx="256.9" cy="423.6" r="3.3"/><circle cx="311.8" cy="428.1" r="3.3"/><circle cx="265" cy="428" r="3.3"/><circle cx="231.5" cy="425.7" r="3.3"/><circle cx="241.7" cy="427" r="3.3"/><circle cx="329.4" cy="423.8" r="3.3"/><circle cx="249.8" cy="426.6" r="3.3"/><circle cx="208.9" cy="427.4" r="3.3"/><circle cx="103.7" cy="422.6" r="3.3"/><circle cx="238.4" cy="427" r="3.3"/><circle cx="257" cy="420.1" r="3.3"/><circle cx="261.2" cy="426.1" r="3.3"/><circle cx="115.2" cy="419.6" r="3.3"/><circle cx="329" cy="424.4" r="3.3"/><circle cx="120.1" cy="420.4" r="3.3"/><circle cx="157.7" cy="423.2" r="3.3"/><circle cx="117" cy="426.6" r="3.3"/><circle cx="226" cy="426.6" r="3.3"/><circle cx="286" cy="425" r="3.3"/><circle cx="195.6" cy="425.2" r="3.3"/><circle cx="125.1" cy="421.8" r="3.3"/><circle cx="289.1" cy="426" r="3.3"/><circle cx="329.4" cy="426" r="3.3"/><circle cx="288.7" cy="425.9" r="3.3"/><circle cx="166.4" cy="426.1" r="3.3"/><circle cx="298.5" cy="417.6" r="3.3"/><circle cx="243.8" cy="427" r="3.3"/><circle cx="131.3" cy="418.4" r="3.3"/><circle cx="176.9" cy="426.9" r="3.3"/><circle cx="277.6" cy="423.1" r="3.3"/><circle cx="325.4" cy="428" r="3.3"/><circle cx="266.9" cy="422.3" r="3.3"/><circle cx="314.3" cy="427.5" r="3.3"/><circle cx="282.8" cy="427.4" r="3.3"/><circle cx="297.1" cy="425.5" r="3.3"/><circle cx="160.7" cy="423" r="3.3"/><circle cx="327.6" cy="425.3" r="3.3"/><circle cx="252.3" cy="415.6" r="3.3"/><circle cx="297.4" cy="427.3" r="3.3"/><circle cx="120.9" cy="420.1" r="3.3"/><circle cx="174.6" cy="422.2" r="3.3"/><circle cx="329.8" cy="427.3" r="3.3"/><circle cx="245.2" cy="421.9" r="3.3"/><circle cx="275.4" cy="423.2" r="3.3"/><circle cx="291.7" cy="421" r="3.3"/><circle cx="219" cy="424.8" r="3.3"/><circle cx="253.3" cy="424.1" r="3.3"/><circle cx="193.5" cy="426.1" r="3.3"/><circle cx="270" cy="425.4" r="3.3"/><circle cx="154.5" cy="426" r="3.3"/><circle cx="145.2" cy="413" r="3.3"/><circle cx="175" cy="424.9" r="3.3"/><circle cx="114.3" cy="420" r="3.3"/><circle cx="190.2" cy="426.8" r="3.3"/><circle cx="328.3" cy="428.9" r="3.3"/><circle cx="171.2" cy="415.2" r="3.3"/><circle cx="326.1" cy="424.8" r="3.3"/><circle cx="119.3" cy="425.4" r="3.3"/><circle cx="243" cy="422.7" r="3.3"/><circle cx="131.8" cy="423.9" r="3.3"/><circle cx="293.7" cy="426" r="3.3"/><circle cx="116" cy="424.1" r="3.3"/><circle cx="103.4" cy="425.6" r="3.3"/><circle cx="170.3" cy="426.6" r="3.3"/><circle cx="270.2" cy="428.1" r="3.3"/><circle cx="150.8" cy="422.3" r="3.3"/><circle cx="244.6" cy="418.4" r="3.3"/><circle cx="276.7" cy="419.6" r="3.3"/><circle cx="298.2" cy="427.2" r="3.3"/><circle cx="197" cy="420" r="3.3"/><circle cx="157.6" cy="423.2" r="3.3"/><circle cx="249.6" cy="424.6" r="3.3"/><circle cx="158" cy="422.3" r="3.3"/><circle cx="221.3" cy="424.6" r="3.3"/><circle cx="266.7" cy="426.4" r="3.3"/><circle cx="325.1" cy="426.9" r="3.3"/><circle cx="166" cy="427.1" r="3.3"/><circle cx="275.5" cy="424.9" r="3.3"/><circle cx="180.3" cy="418.3" r="3.3"/><circle cx="276.3" cy="426.8" r="3.3"/><circle cx="275.3" cy="424.2" r="3.3"/><circle cx="156.9" cy="424.9" r="3.3"/><circle cx="291.3" cy="425.1" r="3.3"/><circle cx="327.1" cy="427.2" r="3.3"/><circle cx="306.7" cy="426.9" r="3.3"/><circle cx="285.7" cy="423.4" r="3.3"/><circle cx="191.2" cy="425.6" r="3.3"/><circle cx="239.7" cy="420.2" r="3.3"/><circle cx="271.3" cy="423.3" r="3.3"/><circle cx="195.7" cy="425.1" r="3.3"/><circle cx="107.9" cy="424.9" r="3.3"/><circle cx="210.1" cy="423.7" r="3.3"/><circle cx="233" cy="426.4" r="3.3"/><circle cx="144.8" cy="425.6" r="3.3"/><circle cx="121.3" cy="425.4" r="3.3"/><circle cx="260.2" cy="426.1" r="3.3"/><circle cx="282.6" cy="428.1" r="3.3"/><circle cx="219.2" cy="415.2" r="3.3"/><circle cx="223.9" cy="422.6" r="3.3"/><circle cx="219.5" cy="425.1" r="3.3"/><circle cx="158.8" cy="424.9" r="3.3"/><circle cx="179.1" cy="420.1" r="3.3"/><circle cx="121.6" cy="424.3" r="3.3"/><circle cx="174.6" cy="425.6" r="3.3"/><circle cx="302.5" cy="425.2" r="3.3"/><circle cx="234.1" cy="417.4" r="3.3"/><circle cx="267.3" cy="428.1" r="3.3"/><circle cx="226.5" cy="421.7" r="3.3"/><circle cx="145.2" cy="423" r="3.3"/><circle cx="140.8" cy="422.3" r="3.3"/><circle cx="280.5" cy="426.6" r="3.3"/><circle cx="163" cy="417.9" r="3.3"/><circle cx="304.9" cy="428.3" r="3.3"/><circle cx="135.4" cy="423.3" r="3.3"/><circle cx="216.2" cy="423.7" r="3.3"/><circle cx="213.2" cy="423.4" r="3.3"/><circle cx="98" cy="424.9" r="3.3"/><circle cx="98.5" cy="428.2" r="3.3"/><circle cx="98.2" cy="432.8" r="3.3"/><circle cx="98.2" cy="437" r="3.3"/><circle cx="98.6" cy="441.8" r="3.3"/><circle cx="330.9" cy="425.9" r="3.3"/><circle cx="331" cy="431.5" r="3.3"/><circle cx="331" cy="435.7" r="3.3"/><circle cx="331" cy="439" r="3.3"/></g>
<g fill="#000" fill-opacity="0.5" stroke="#000" stroke-opacity="0.45" stroke-width="1"><circle cx="161" cy="416.3" r="3.3"/><circle cx="205.9" cy="415.4" r="3.3"/><circle cx="135.9" cy="414.1" r="3.3"/><circle cx="139" cy="413.1" r="3.3"/><circle cx="132.6" cy="416" r="3.3"/><circle cx="180.9" cy="414.1" r="3.3"/><circle cx="188.3" cy="416" r="3.3"/><circle cx="151.1" cy="417.8" r="3.3"/><circle cx="171.6" cy="418.7" r="3.3"/><circle cx="226.4" cy="415.9" r="3.3"/><circle cx="252" cy="413.1" r="3.3"/><circle cx="298" cy="415.9" r="3.3"/><circle cx="260.9" cy="416.5" r="3.3"/><circle cx="237.1" cy="419.6" r="3.3"/><circle cx="327.2" cy="420.2" r="3.3"/></g>
<g fill="rgb(90,115,210)" fill-opacity="0.58" stroke="#000" stroke-opacity="0.58" stroke-width="1.25"><circle cx="122" cy="374.5" r="3.2"/><circle cx="109.7" cy="392.3" r="3.2"/><circle cx="134.8" cy="387.9" r="3.2"/><circle cx="117.2" cy="412" r="3.2"/><circle cx="148.7" cy="406.1" r="3.2"/><circle cx="169.7" cy="400.5" r="3.2"/><circle cx="186.8" cy="372.8" r="3.2"/><circle cx="189.2" cy="394.2" r="3.2"/><circle cx="177.7" cy="412.8" r="3.2"/><circle cx="234.7" cy="359.7" r="3.2"/><circle cx="227.5" cy="392.7" r="3.2"/><circle cx="228.2" cy="404.8" r="3.2"/><circle cx="240.3" cy="406.1" r="3.2"/><circle cx="265.6" cy="399.8" r="3.2"/><circle cx="260.9" cy="407.9" r="3.2"/><circle cx="286.7" cy="405.7" r="3.2"/><circle cx="296.9" cy="406.6" r="3.2"/><circle cx="323.1" cy="398.3" r="3.2"/><circle cx="328.1" cy="404.8" r="3.2"/><circle cx="315.7" cy="412.2" r="3.2"/><circle cx="322.9" cy="411.8" r="3.2"/></g>
<path d="M86.70 355.7V445.65H343" fill="none" stroke="#000" stroke-width="1.5" stroke-linejoin="round"/>
<path d="M83.4 375.8H87M83.4 398.2H87M83.4 420.4H87M83.4 442.6H87M97.9 445.5V449.1M163.4 445.5V449.1M228.9 445.5V449.1M294.3 445.5V449.1" stroke="#333" stroke-width="1.2"/>
<text x="79.3" y="379.7" text-anchor="end" class="t">60</text>
<text x="79.3" y="402.1" text-anchor="end" class="t">40</text>
<text x="79.3" y="424.3" text-anchor="end" class="t">20</text>
<text x="79.3" y="446.5" text-anchor="end" class="t">0</text>
<text x="97.9" y="462.4" text-anchor="middle" class="t">0</text>
<text x="163.4" y="462.4" text-anchor="middle" class="t">1000</text>
<text x="228.9" y="462.4" text-anchor="middle" class="t">2000</text>
<text x="294.3" y="462.4" text-anchor="middle" class="t">3000</text>
<text x="215.2" y="480" text-anchor="middle" class="h">SNP Index</text>
<g>
<circle cx="306" cy="597.3" r="67.2" fill="rgb(233,29,39)" fill-opacity="0.5"/>
<circle cx="396" cy="597.3" r="67.2" fill="rgb(113,183,69)" fill-opacity="0.5"/>
<circle cx="351" cy="681.2" r="67.2" fill="rgb(61,87,171)" fill-opacity="0.5"/>
</g>
<text x="296.3" y="603" style="font-size:15px" text-anchor="middle">31</text>
<text x="350.2" y="590.8" style="font-size:15px" text-anchor="middle">31</text>
<text x="405.5" y="603" style="font-size:15px" text-anchor="middle">142</text>
<text x="350.9" y="630.8" style="font-size:15px" text-anchor="middle">0</text>
<text x="316.6" y="644.7" style="font-size:15px" text-anchor="middle">0</text>
<text x="384.7" y="644.7" style="font-size:15px" text-anchor="middle">0</text>
<text x="350.2" y="686.8" style="font-size:15px" text-anchor="middle">21</text>
<text x="296.3" y="517.8" text-anchor="middle" style="font-size:24px">Arlequin</text>
<text x="405.4" y="517.8" text-anchor="middle" style="font-size:24px">FstHet</text>
<text x="351.3" y="777.5" text-anchor="middle" style="font-size:22px" textLength="84.5" lengthAdjust="spacing">pcadapt</text>
</svg></body></html>
